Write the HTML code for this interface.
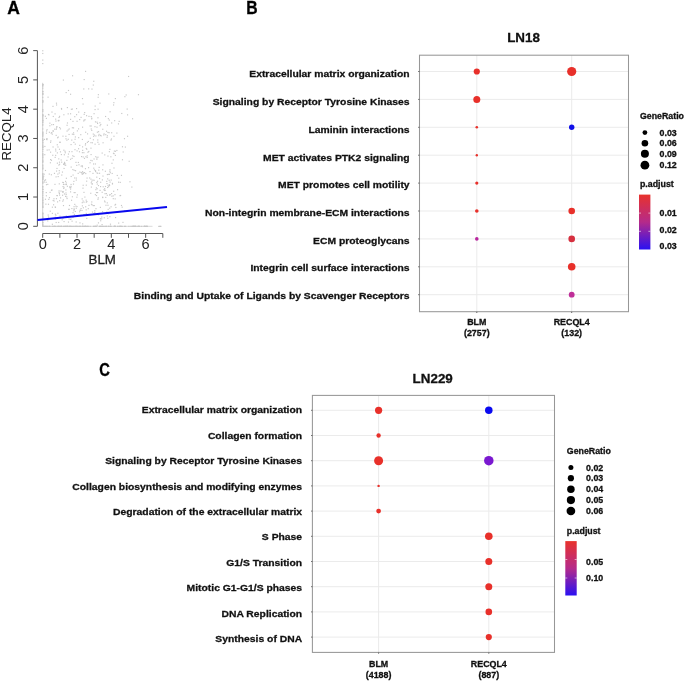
<!DOCTYPE html>
<html><head><meta charset="utf-8"><style>
html,body{margin:0;padding:0;background:#fff;}
body{width:685px;height:681px;overflow:hidden;}
svg{display:block;font-family:"Liberation Sans", sans-serif;will-change:transform;}
</style></head><body>
<svg width="685" height="681" viewBox="0 0 685 681">
<text x="7.2" y="13.8" font-size="17.5" font-weight="bold" text-anchor="start" fill="#000" stroke="#000" stroke-width="0.3" >A</text>
<line x1="37.4" y1="50.62" x2="37.4" y2="226.3" stroke="#555" stroke-width="1"/>
<line x1="33.199999999999996" y1="226.30" x2="37.4" y2="226.30" stroke="#555" stroke-width="1"/>
<text x="0" y="0" font-size="14.6" text-anchor="middle" fill="#222" transform="translate(28.20,226.30) rotate(-90)">0</text>
<line x1="33.199999999999996" y1="197.02" x2="37.4" y2="197.02" stroke="#555" stroke-width="1"/>
<text x="0" y="0" font-size="14.6" text-anchor="middle" fill="#222" transform="translate(28.20,197.02) rotate(-90)">1</text>
<line x1="33.199999999999996" y1="167.74" x2="37.4" y2="167.74" stroke="#555" stroke-width="1"/>
<text x="0" y="0" font-size="14.6" text-anchor="middle" fill="#222" transform="translate(28.20,167.74) rotate(-90)">2</text>
<line x1="33.199999999999996" y1="138.46" x2="37.4" y2="138.46" stroke="#555" stroke-width="1"/>
<text x="0" y="0" font-size="14.6" text-anchor="middle" fill="#222" transform="translate(28.20,138.46) rotate(-90)">3</text>
<line x1="33.199999999999996" y1="109.18" x2="37.4" y2="109.18" stroke="#555" stroke-width="1"/>
<text x="0" y="0" font-size="14.6" text-anchor="middle" fill="#222" transform="translate(28.20,109.18) rotate(-90)">4</text>
<line x1="33.199999999999996" y1="79.90" x2="37.4" y2="79.90" stroke="#555" stroke-width="1"/>
<text x="0" y="0" font-size="14.6" text-anchor="middle" fill="#222" transform="translate(28.20,79.90) rotate(-90)">5</text>
<line x1="33.199999999999996" y1="50.62" x2="37.4" y2="50.62" stroke="#555" stroke-width="1"/>
<text x="0" y="0" font-size="14.6" text-anchor="middle" fill="#222" transform="translate(28.20,50.62) rotate(-90)">6</text>
<text x="0" y="0" font-size="13.3" text-anchor="middle" fill="#222" transform="translate(11,133.9) rotate(-90)">RECQL4</text>
<line x1="42.7" y1="233.5" x2="162.82" y2="233.5" stroke="#555" stroke-width="1"/>
<line x1="42.70" y1="233.5" x2="42.70" y2="237.8" stroke="#555" stroke-width="1"/>
<text x="42.70" y="249.3" font-size="14.6" text-anchor="middle" fill="#222">0</text>
<line x1="59.86" y1="233.5" x2="59.86" y2="237.8" stroke="#555" stroke-width="1"/>
<line x1="77.02" y1="233.5" x2="77.02" y2="237.8" stroke="#555" stroke-width="1"/>
<text x="77.02" y="249.3" font-size="14.6" text-anchor="middle" fill="#222">2</text>
<line x1="94.18" y1="233.5" x2="94.18" y2="237.8" stroke="#555" stroke-width="1"/>
<line x1="111.34" y1="233.5" x2="111.34" y2="237.8" stroke="#555" stroke-width="1"/>
<text x="111.34" y="249.3" font-size="14.6" text-anchor="middle" fill="#222">4</text>
<line x1="128.50" y1="233.5" x2="128.50" y2="237.8" stroke="#555" stroke-width="1"/>
<line x1="145.66" y1="233.5" x2="145.66" y2="237.8" stroke="#555" stroke-width="1"/>
<text x="145.66" y="249.3" font-size="14.6" text-anchor="middle" fill="#222">6</text>
<line x1="162.82" y1="233.5" x2="162.82" y2="237.8" stroke="#555" stroke-width="1"/>
<text x="102.2" y="264.4" font-size="13.3" font-weight="normal" text-anchor="middle" fill="#222" stroke="#222" stroke-width="0.3" >BLM</text>
<line x1="42.7" y1="82.8" x2="42.7" y2="226.3" stroke="#d2d2d2" stroke-width="1"/>
<line x1="42.7" y1="226.3" x2="152.5" y2="226.3" stroke="#dadada" stroke-width="1"/>
<rect x="74.2" y="203.8" width="1.15" height="1.15" fill="#c8c8c8"/>
<rect x="80.6" y="165.6" width="1.15" height="1.15" fill="#c8c8c8"/>
<rect x="76.4" y="206.0" width="1.15" height="1.15" fill="#c8c8c8"/>
<rect x="100.0" y="186.0" width="1.15" height="1.15" fill="#c8c8c8"/>
<rect x="131.3" y="186.5" width="1.15" height="1.15" fill="#c8c8c8"/>
<rect x="59.1" y="127.0" width="1.15" height="1.15" fill="#c8c8c8"/>
<rect x="45.7" y="192.0" width="1.15" height="1.15" fill="#c8c8c8"/>
<rect x="86.3" y="201.0" width="1.15" height="1.15" fill="#c8c8c8"/>
<rect x="86.6" y="155.3" width="1.15" height="1.15" fill="#c8c8c8"/>
<rect x="71.8" y="127.2" width="1.15" height="1.15" fill="#c8c8c8"/>
<rect x="51.7" y="133.6" width="1.15" height="1.15" fill="#c8c8c8"/>
<rect x="91.2" y="180.6" width="1.15" height="1.15" fill="#c8c8c8"/>
<rect x="74.1" y="177.4" width="1.15" height="1.15" fill="#c8c8c8"/>
<rect x="102.5" y="142.2" width="1.15" height="1.15" fill="#c8c8c8"/>
<rect x="70.0" y="113.2" width="1.15" height="1.15" fill="#c8c8c8"/>
<rect x="76.5" y="150.3" width="1.15" height="1.15" fill="#c8c8c8"/>
<rect x="106.7" y="194.7" width="1.15" height="1.15" fill="#c8c8c8"/>
<rect x="70.6" y="175.9" width="1.15" height="1.15" fill="#c8c8c8"/>
<rect x="57.7" y="136.5" width="1.15" height="1.15" fill="#c8c8c8"/>
<rect x="52.7" y="115.9" width="1.15" height="1.15" fill="#c8c8c8"/>
<rect x="108.1" y="186.1" width="1.15" height="1.15" fill="#c8c8c8"/>
<rect x="56.8" y="162.6" width="1.15" height="1.15" fill="#c8c8c8"/>
<rect x="86.5" y="177.5" width="1.15" height="1.15" fill="#c8c8c8"/>
<rect x="50.9" y="159.7" width="1.15" height="1.15" fill="#c8c8c8"/>
<rect x="112.7" y="159.3" width="1.15" height="1.15" fill="#c8c8c8"/>
<rect x="68.8" y="151.1" width="1.15" height="1.15" fill="#c8c8c8"/>
<rect x="53.0" y="204.2" width="1.15" height="1.15" fill="#c8c8c8"/>
<rect x="68.3" y="208.7" width="1.15" height="1.15" fill="#c8c8c8"/>
<rect x="49.3" y="125.2" width="1.15" height="1.15" fill="#c8c8c8"/>
<rect x="92.3" y="179.5" width="1.15" height="1.15" fill="#c8c8c8"/>
<rect x="81.9" y="98.0" width="1.15" height="1.15" fill="#c8c8c8"/>
<rect x="73.8" y="213.8" width="1.15" height="1.15" fill="#c8c8c8"/>
<rect x="66.8" y="185.7" width="1.15" height="1.15" fill="#c8c8c8"/>
<rect x="54.8" y="213.6" width="1.15" height="1.15" fill="#c8c8c8"/>
<rect x="93.5" y="113.1" width="1.15" height="1.15" fill="#c8c8c8"/>
<rect x="104.5" y="193.1" width="1.15" height="1.15" fill="#c8c8c8"/>
<rect x="56.8" y="152.3" width="1.15" height="1.15" fill="#c8c8c8"/>
<rect x="70.0" y="93.7" width="1.15" height="1.15" fill="#c8c8c8"/>
<rect x="111.4" y="162.7" width="1.15" height="1.15" fill="#c8c8c8"/>
<rect x="51.8" y="223.7" width="1.15" height="1.15" fill="#c8c8c8"/>
<rect x="43.9" y="138.8" width="1.15" height="1.15" fill="#c8c8c8"/>
<rect x="94.6" y="105.5" width="1.15" height="1.15" fill="#c8c8c8"/>
<rect x="109.5" y="194.0" width="1.15" height="1.15" fill="#c8c8c8"/>
<rect x="61.0" y="108.6" width="1.15" height="1.15" fill="#c8c8c8"/>
<rect x="92.7" y="133.5" width="1.15" height="1.15" fill="#c8c8c8"/>
<rect x="93.1" y="135.8" width="1.15" height="1.15" fill="#c8c8c8"/>
<rect x="74.8" y="210.9" width="1.15" height="1.15" fill="#c8c8c8"/>
<rect x="85.7" y="212.8" width="1.15" height="1.15" fill="#c8c8c8"/>
<rect x="63.3" y="114.2" width="1.15" height="1.15" fill="#c8c8c8"/>
<rect x="65.0" y="180.8" width="1.15" height="1.15" fill="#c8c8c8"/>
<rect x="108.5" y="132.1" width="1.15" height="1.15" fill="#c8c8c8"/>
<rect x="86.2" y="217.8" width="1.15" height="1.15" fill="#c8c8c8"/>
<rect x="59.9" y="151.3" width="1.15" height="1.15" fill="#c8c8c8"/>
<rect x="58.2" y="120.2" width="1.15" height="1.15" fill="#c8c8c8"/>
<rect x="58.2" y="119.8" width="1.15" height="1.15" fill="#c8c8c8"/>
<rect x="82.9" y="172.7" width="1.15" height="1.15" fill="#c8c8c8"/>
<rect x="90.9" y="203.7" width="1.15" height="1.15" fill="#c8c8c8"/>
<rect x="45.0" y="179.3" width="1.15" height="1.15" fill="#c8c8c8"/>
<rect x="89.4" y="171.0" width="1.15" height="1.15" fill="#c8c8c8"/>
<rect x="84.9" y="168.1" width="1.15" height="1.15" fill="#c8c8c8"/>
<rect x="58.9" y="148.7" width="1.15" height="1.15" fill="#c8c8c8"/>
<rect x="85.7" y="201.6" width="1.15" height="1.15" fill="#c8c8c8"/>
<rect x="78.0" y="148.2" width="1.15" height="1.15" fill="#c8c8c8"/>
<rect x="66.9" y="122.4" width="1.15" height="1.15" fill="#c8c8c8"/>
<rect x="109.3" y="216.1" width="1.15" height="1.15" fill="#c8c8c8"/>
<rect x="99.7" y="218.2" width="1.15" height="1.15" fill="#c8c8c8"/>
<rect x="48.9" y="197.1" width="1.15" height="1.15" fill="#c8c8c8"/>
<rect x="114.1" y="120.1" width="1.15" height="1.15" fill="#c8c8c8"/>
<rect x="46.5" y="129.1" width="1.15" height="1.15" fill="#c8c8c8"/>
<rect x="45.6" y="181.7" width="1.15" height="1.15" fill="#c8c8c8"/>
<rect x="51.8" y="206.6" width="1.15" height="1.15" fill="#c8c8c8"/>
<rect x="82.4" y="187.6" width="1.15" height="1.15" fill="#c8c8c8"/>
<rect x="86.0" y="115.1" width="1.15" height="1.15" fill="#c8c8c8"/>
<rect x="105.2" y="196.8" width="1.15" height="1.15" fill="#c8c8c8"/>
<rect x="47.2" y="220.3" width="1.15" height="1.15" fill="#c8c8c8"/>
<rect x="87.7" y="208.1" width="1.15" height="1.15" fill="#c8c8c8"/>
<rect x="63.8" y="154.2" width="1.15" height="1.15" fill="#c8c8c8"/>
<rect x="61.9" y="171.5" width="1.15" height="1.15" fill="#c8c8c8"/>
<rect x="59.7" y="141.7" width="1.15" height="1.15" fill="#c8c8c8"/>
<rect x="51.2" y="132.0" width="1.15" height="1.15" fill="#c8c8c8"/>
<rect x="70.8" y="108.7" width="1.15" height="1.15" fill="#c8c8c8"/>
<rect x="70.0" y="188.5" width="1.15" height="1.15" fill="#c8c8c8"/>
<rect x="52.6" y="199.9" width="1.15" height="1.15" fill="#c8c8c8"/>
<rect x="61.2" y="174.5" width="1.15" height="1.15" fill="#c8c8c8"/>
<rect x="83.4" y="214.0" width="1.15" height="1.15" fill="#c8c8c8"/>
<rect x="75.4" y="161.8" width="1.15" height="1.15" fill="#c8c8c8"/>
<rect x="94.4" y="126.1" width="1.15" height="1.15" fill="#c8c8c8"/>
<rect x="59.0" y="115.8" width="1.15" height="1.15" fill="#c8c8c8"/>
<rect x="75.0" y="170.1" width="1.15" height="1.15" fill="#c8c8c8"/>
<rect x="71.3" y="208.0" width="1.15" height="1.15" fill="#c8c8c8"/>
<rect x="47.9" y="216.4" width="1.15" height="1.15" fill="#c8c8c8"/>
<rect x="58.7" y="170.1" width="1.15" height="1.15" fill="#c8c8c8"/>
<rect x="64.2" y="164.3" width="1.15" height="1.15" fill="#c8c8c8"/>
<rect x="48.4" y="114.3" width="1.15" height="1.15" fill="#c8c8c8"/>
<rect x="108.7" y="119.5" width="1.15" height="1.15" fill="#c8c8c8"/>
<rect x="65.7" y="182.4" width="1.15" height="1.15" fill="#c8c8c8"/>
<rect x="72.3" y="169.0" width="1.15" height="1.15" fill="#c8c8c8"/>
<rect x="43.1" y="175.7" width="1.15" height="1.15" fill="#c8c8c8"/>
<rect x="53.4" y="198.2" width="1.15" height="1.15" fill="#c8c8c8"/>
<rect x="72.2" y="155.2" width="1.15" height="1.15" fill="#c8c8c8"/>
<rect x="102.1" y="197.0" width="1.15" height="1.15" fill="#c8c8c8"/>
<rect x="123.9" y="138.1" width="1.15" height="1.15" fill="#c8c8c8"/>
<rect x="55.5" y="176.3" width="1.15" height="1.15" fill="#c8c8c8"/>
<rect x="99.0" y="172.7" width="1.15" height="1.15" fill="#c8c8c8"/>
<rect x="88.2" y="150.9" width="1.15" height="1.15" fill="#c8c8c8"/>
<rect x="96.3" y="158.7" width="1.15" height="1.15" fill="#c8c8c8"/>
<rect x="64.5" y="183.9" width="1.15" height="1.15" fill="#c8c8c8"/>
<rect x="56.4" y="167.9" width="1.15" height="1.15" fill="#c8c8c8"/>
<rect x="101.8" y="179.3" width="1.15" height="1.15" fill="#c8c8c8"/>
<rect x="104.5" y="189.7" width="1.15" height="1.15" fill="#c8c8c8"/>
<rect x="47.2" y="183.8" width="1.15" height="1.15" fill="#c8c8c8"/>
<rect x="107.5" y="184.8" width="1.15" height="1.15" fill="#c8c8c8"/>
<rect x="72.5" y="174.5" width="1.15" height="1.15" fill="#c8c8c8"/>
<rect x="94.8" y="194.1" width="1.15" height="1.15" fill="#c8c8c8"/>
<rect x="94.2" y="210.1" width="1.15" height="1.15" fill="#c8c8c8"/>
<rect x="46.0" y="130.4" width="1.15" height="1.15" fill="#c8c8c8"/>
<rect x="90.3" y="159.8" width="1.15" height="1.15" fill="#c8c8c8"/>
<rect x="90.8" y="186.5" width="1.15" height="1.15" fill="#c8c8c8"/>
<rect x="116.7" y="174.9" width="1.15" height="1.15" fill="#c8c8c8"/>
<rect x="112.7" y="198.1" width="1.15" height="1.15" fill="#c8c8c8"/>
<rect x="64.1" y="163.0" width="1.15" height="1.15" fill="#c8c8c8"/>
<rect x="85.7" y="147.9" width="1.15" height="1.15" fill="#c8c8c8"/>
<rect x="49.3" y="122.6" width="1.15" height="1.15" fill="#c8c8c8"/>
<rect x="107.2" y="217.7" width="1.15" height="1.15" fill="#c8c8c8"/>
<rect x="45.9" y="132.6" width="1.15" height="1.15" fill="#c8c8c8"/>
<rect x="63.5" y="216.3" width="1.15" height="1.15" fill="#c8c8c8"/>
<rect x="54.1" y="128.6" width="1.15" height="1.15" fill="#c8c8c8"/>
<rect x="60.4" y="190.5" width="1.15" height="1.15" fill="#c8c8c8"/>
<rect x="87.8" y="140.9" width="1.15" height="1.15" fill="#c8c8c8"/>
<rect x="107.1" y="178.3" width="1.15" height="1.15" fill="#c8c8c8"/>
<rect x="109.4" y="169.2" width="1.15" height="1.15" fill="#c8c8c8"/>
<rect x="118.2" y="177.6" width="1.15" height="1.15" fill="#c8c8c8"/>
<rect x="88.0" y="167.1" width="1.15" height="1.15" fill="#c8c8c8"/>
<rect x="58.5" y="116.9" width="1.15" height="1.15" fill="#c8c8c8"/>
<rect x="83.2" y="88.4" width="1.15" height="1.15" fill="#c8c8c8"/>
<rect x="79.8" y="209.7" width="1.15" height="1.15" fill="#c8c8c8"/>
<rect x="73.6" y="192.0" width="1.15" height="1.15" fill="#c8c8c8"/>
<rect x="95.9" y="192.0" width="1.15" height="1.15" fill="#c8c8c8"/>
<rect x="65.3" y="189.4" width="1.15" height="1.15" fill="#c8c8c8"/>
<rect x="43.8" y="181.4" width="1.15" height="1.15" fill="#c8c8c8"/>
<rect x="68.5" y="218.4" width="1.15" height="1.15" fill="#c8c8c8"/>
<rect x="63.1" y="163.7" width="1.15" height="1.15" fill="#c8c8c8"/>
<rect x="94.9" y="121.3" width="1.15" height="1.15" fill="#c8c8c8"/>
<rect x="118.1" y="222.5" width="1.15" height="1.15" fill="#c8c8c8"/>
<rect x="57.0" y="137.2" width="1.15" height="1.15" fill="#c8c8c8"/>
<rect x="110.3" y="156.2" width="1.15" height="1.15" fill="#c8c8c8"/>
<rect x="74.5" y="138.7" width="1.15" height="1.15" fill="#c8c8c8"/>
<rect x="71.0" y="199.7" width="1.15" height="1.15" fill="#c8c8c8"/>
<rect x="52.4" y="130.4" width="1.15" height="1.15" fill="#c8c8c8"/>
<rect x="60.8" y="154.0" width="1.15" height="1.15" fill="#c8c8c8"/>
<rect x="73.6" y="209.0" width="1.15" height="1.15" fill="#c8c8c8"/>
<rect x="44.3" y="145.9" width="1.15" height="1.15" fill="#c8c8c8"/>
<rect x="102.1" y="196.6" width="1.15" height="1.15" fill="#c8c8c8"/>
<rect x="75.7" y="207.7" width="1.15" height="1.15" fill="#c8c8c8"/>
<rect x="56.6" y="195.0" width="1.15" height="1.15" fill="#c8c8c8"/>
<rect x="101.2" y="216.5" width="1.15" height="1.15" fill="#c8c8c8"/>
<rect x="108.6" y="179.7" width="1.15" height="1.15" fill="#c8c8c8"/>
<rect x="59.9" y="128.3" width="1.15" height="1.15" fill="#c8c8c8"/>
<rect x="82.0" y="171.1" width="1.15" height="1.15" fill="#c8c8c8"/>
<rect x="96.7" y="183.5" width="1.15" height="1.15" fill="#c8c8c8"/>
<rect x="63.5" y="221.0" width="1.15" height="1.15" fill="#c8c8c8"/>
<rect x="117.0" y="189.1" width="1.15" height="1.15" fill="#c8c8c8"/>
<rect x="86.1" y="180.6" width="1.15" height="1.15" fill="#c8c8c8"/>
<rect x="62.5" y="186.0" width="1.15" height="1.15" fill="#c8c8c8"/>
<rect x="129.4" y="181.2" width="1.15" height="1.15" fill="#c8c8c8"/>
<rect x="76.3" y="196.6" width="1.15" height="1.15" fill="#c8c8c8"/>
<rect x="45.3" y="203.6" width="1.15" height="1.15" fill="#c8c8c8"/>
<rect x="63.4" y="186.7" width="1.15" height="1.15" fill="#c8c8c8"/>
<rect x="104.5" y="201.4" width="1.15" height="1.15" fill="#c8c8c8"/>
<rect x="108.8" y="151.1" width="1.15" height="1.15" fill="#c8c8c8"/>
<rect x="66.3" y="139.6" width="1.15" height="1.15" fill="#c8c8c8"/>
<rect x="71.5" y="157.8" width="1.15" height="1.15" fill="#c8c8c8"/>
<rect x="117.9" y="123.3" width="1.15" height="1.15" fill="#c8c8c8"/>
<rect x="105.4" y="204.7" width="1.15" height="1.15" fill="#c8c8c8"/>
<rect x="57.0" y="201.3" width="1.15" height="1.15" fill="#c8c8c8"/>
<rect x="115.0" y="217.0" width="1.15" height="1.15" fill="#c8c8c8"/>
<rect x="50.0" y="141.7" width="1.15" height="1.15" fill="#c8c8c8"/>
<rect x="102.1" y="169.2" width="1.15" height="1.15" fill="#c8c8c8"/>
<rect x="99.5" y="189.8" width="1.15" height="1.15" fill="#c8c8c8"/>
<rect x="62.8" y="199.3" width="1.15" height="1.15" fill="#c8c8c8"/>
<rect x="82.5" y="200.4" width="1.15" height="1.15" fill="#c8c8c8"/>
<rect x="85.0" y="143.1" width="1.15" height="1.15" fill="#c8c8c8"/>
<rect x="44.9" y="198.7" width="1.15" height="1.15" fill="#c8c8c8"/>
<rect x="97.7" y="197.3" width="1.15" height="1.15" fill="#c8c8c8"/>
<rect x="100.6" y="135.3" width="1.15" height="1.15" fill="#c8c8c8"/>
<rect x="121.9" y="146.2" width="1.15" height="1.15" fill="#c8c8c8"/>
<rect x="55.9" y="198.1" width="1.15" height="1.15" fill="#c8c8c8"/>
<rect x="51.8" y="212.8" width="1.15" height="1.15" fill="#c8c8c8"/>
<rect x="70.5" y="144.0" width="1.15" height="1.15" fill="#c8c8c8"/>
<rect x="54.6" y="156.8" width="1.15" height="1.15" fill="#c8c8c8"/>
<rect x="94.5" y="143.6" width="1.15" height="1.15" fill="#c8c8c8"/>
<rect x="71.8" y="108.5" width="1.15" height="1.15" fill="#c8c8c8"/>
<rect x="58.7" y="183.3" width="1.15" height="1.15" fill="#c8c8c8"/>
<rect x="115.0" y="203.8" width="1.15" height="1.15" fill="#c8c8c8"/>
<rect x="97.0" y="122.9" width="1.15" height="1.15" fill="#c8c8c8"/>
<rect x="78.1" y="137.1" width="1.15" height="1.15" fill="#c8c8c8"/>
<rect x="77.8" y="161.9" width="1.15" height="1.15" fill="#c8c8c8"/>
<rect x="93.5" y="158.4" width="1.15" height="1.15" fill="#c8c8c8"/>
<rect x="65.6" y="194.0" width="1.15" height="1.15" fill="#c8c8c8"/>
<rect x="85.2" y="173.0" width="1.15" height="1.15" fill="#c8c8c8"/>
<rect x="108.0" y="213.1" width="1.15" height="1.15" fill="#c8c8c8"/>
<rect x="122.4" y="221.8" width="1.15" height="1.15" fill="#c8c8c8"/>
<rect x="97.2" y="139.4" width="1.15" height="1.15" fill="#c8c8c8"/>
<rect x="111.9" y="183.4" width="1.15" height="1.15" fill="#c8c8c8"/>
<rect x="82.1" y="223.3" width="1.15" height="1.15" fill="#c8c8c8"/>
<rect x="50.8" y="174.2" width="1.15" height="1.15" fill="#c8c8c8"/>
<rect x="52.4" y="105.8" width="1.15" height="1.15" fill="#c8c8c8"/>
<rect x="113.5" y="153.1" width="1.15" height="1.15" fill="#c8c8c8"/>
<rect x="86.2" y="148.7" width="1.15" height="1.15" fill="#c8c8c8"/>
<rect x="69.4" y="187.1" width="1.15" height="1.15" fill="#c8c8c8"/>
<rect x="101.2" y="218.3" width="1.15" height="1.15" fill="#c8c8c8"/>
<rect x="81.5" y="173.4" width="1.15" height="1.15" fill="#c8c8c8"/>
<rect x="102.2" y="128.7" width="1.15" height="1.15" fill="#c8c8c8"/>
<rect x="90.4" y="178.6" width="1.15" height="1.15" fill="#c8c8c8"/>
<rect x="124.3" y="96.1" width="1.15" height="1.15" fill="#c8c8c8"/>
<rect x="99.3" y="122.2" width="1.15" height="1.15" fill="#c8c8c8"/>
<rect x="97.7" y="214.2" width="1.15" height="1.15" fill="#c8c8c8"/>
<rect x="104.1" y="188.1" width="1.15" height="1.15" fill="#c8c8c8"/>
<rect x="108.8" y="173.8" width="1.15" height="1.15" fill="#c8c8c8"/>
<rect x="109.5" y="111.2" width="1.15" height="1.15" fill="#c8c8c8"/>
<rect x="57.6" y="176.0" width="1.15" height="1.15" fill="#c8c8c8"/>
<rect x="47.9" y="113.9" width="1.15" height="1.15" fill="#c8c8c8"/>
<rect x="97.3" y="141.7" width="1.15" height="1.15" fill="#c8c8c8"/>
<rect x="96.8" y="131.6" width="1.15" height="1.15" fill="#c8c8c8"/>
<rect x="62.9" y="182.1" width="1.15" height="1.15" fill="#c8c8c8"/>
<rect x="99.5" y="125.1" width="1.15" height="1.15" fill="#c8c8c8"/>
<rect x="70.5" y="218.5" width="1.15" height="1.15" fill="#c8c8c8"/>
<rect x="113.1" y="190.7" width="1.15" height="1.15" fill="#c8c8c8"/>
<rect x="101.6" y="152.5" width="1.15" height="1.15" fill="#c8c8c8"/>
<rect x="68.4" y="208.9" width="1.15" height="1.15" fill="#c8c8c8"/>
<rect x="79.1" y="119.0" width="1.15" height="1.15" fill="#c8c8c8"/>
<rect x="54.6" y="206.4" width="1.15" height="1.15" fill="#c8c8c8"/>
<rect x="49.7" y="210.6" width="1.15" height="1.15" fill="#c8c8c8"/>
<rect x="84.5" y="119.2" width="1.15" height="1.15" fill="#c8c8c8"/>
<rect x="63.3" y="149.6" width="1.15" height="1.15" fill="#c8c8c8"/>
<rect x="109.1" y="207.6" width="1.15" height="1.15" fill="#c8c8c8"/>
<rect x="71.8" y="133.6" width="1.15" height="1.15" fill="#c8c8c8"/>
<rect x="63.5" y="167.9" width="1.15" height="1.15" fill="#c8c8c8"/>
<rect x="73.2" y="133.9" width="1.15" height="1.15" fill="#c8c8c8"/>
<rect x="49.8" y="162.2" width="1.15" height="1.15" fill="#c8c8c8"/>
<rect x="106.4" y="183.0" width="1.15" height="1.15" fill="#c8c8c8"/>
<rect x="58.2" y="158.3" width="1.15" height="1.15" fill="#c8c8c8"/>
<rect x="51.5" y="189.4" width="1.15" height="1.15" fill="#c8c8c8"/>
<rect x="91.9" y="211.5" width="1.15" height="1.15" fill="#c8c8c8"/>
<rect x="67.7" y="138.7" width="1.15" height="1.15" fill="#c8c8c8"/>
<rect x="102.0" y="211.1" width="1.15" height="1.15" fill="#c8c8c8"/>
<rect x="70.0" y="158.7" width="1.15" height="1.15" fill="#c8c8c8"/>
<rect x="114.6" y="198.3" width="1.15" height="1.15" fill="#c8c8c8"/>
<rect x="111.3" y="195.6" width="1.15" height="1.15" fill="#c8c8c8"/>
<rect x="105.0" y="115.9" width="1.15" height="1.15" fill="#c8c8c8"/>
<rect x="85.1" y="131.7" width="1.15" height="1.15" fill="#c8c8c8"/>
<rect x="84.8" y="144.4" width="1.15" height="1.15" fill="#c8c8c8"/>
<rect x="73.5" y="206.1" width="1.15" height="1.15" fill="#c8c8c8"/>
<rect x="56.2" y="126.4" width="1.15" height="1.15" fill="#c8c8c8"/>
<rect x="57.7" y="120.1" width="1.15" height="1.15" fill="#c8c8c8"/>
<rect x="69.8" y="218.9" width="1.15" height="1.15" fill="#c8c8c8"/>
<rect x="85.3" y="156.2" width="1.15" height="1.15" fill="#c8c8c8"/>
<rect x="106.0" y="130.7" width="1.15" height="1.15" fill="#c8c8c8"/>
<rect x="114.4" y="204.5" width="1.15" height="1.15" fill="#c8c8c8"/>
<rect x="67.6" y="129.4" width="1.15" height="1.15" fill="#c8c8c8"/>
<rect x="95.4" y="208.1" width="1.15" height="1.15" fill="#c8c8c8"/>
<rect x="62.2" y="191.3" width="1.15" height="1.15" fill="#c8c8c8"/>
<rect x="65.0" y="195.8" width="1.15" height="1.15" fill="#c8c8c8"/>
<rect x="62.2" y="200.6" width="1.15" height="1.15" fill="#c8c8c8"/>
<rect x="97.4" y="156.6" width="1.15" height="1.15" fill="#c8c8c8"/>
<rect x="65.7" y="215.4" width="1.15" height="1.15" fill="#c8c8c8"/>
<rect x="120.0" y="194.9" width="1.15" height="1.15" fill="#c8c8c8"/>
<rect x="47.5" y="96.6" width="1.15" height="1.15" fill="#c8c8c8"/>
<rect x="48.8" y="131.7" width="1.15" height="1.15" fill="#c8c8c8"/>
<rect x="68.9" y="204.9" width="1.15" height="1.15" fill="#c8c8c8"/>
<rect x="90.5" y="154.0" width="1.15" height="1.15" fill="#c8c8c8"/>
<rect x="52.2" y="154.7" width="1.15" height="1.15" fill="#c8c8c8"/>
<rect x="84.0" y="172.0" width="1.15" height="1.15" fill="#c8c8c8"/>
<rect x="124.2" y="210.3" width="1.15" height="1.15" fill="#c8c8c8"/>
<rect x="56.7" y="144.2" width="1.15" height="1.15" fill="#c8c8c8"/>
<rect x="75.7" y="179.5" width="1.15" height="1.15" fill="#c8c8c8"/>
<rect x="82.7" y="172.5" width="1.15" height="1.15" fill="#c8c8c8"/>
<rect x="66.5" y="124.7" width="1.15" height="1.15" fill="#c8c8c8"/>
<rect x="91.6" y="183.5" width="1.15" height="1.15" fill="#c8c8c8"/>
<rect x="96.2" y="176.6" width="1.15" height="1.15" fill="#c8c8c8"/>
<rect x="108.8" y="184.2" width="1.15" height="1.15" fill="#c8c8c8"/>
<rect x="97.7" y="213.9" width="1.15" height="1.15" fill="#c8c8c8"/>
<rect x="56.5" y="195.0" width="1.15" height="1.15" fill="#c8c8c8"/>
<rect x="76.0" y="114.1" width="1.15" height="1.15" fill="#c8c8c8"/>
<rect x="54.4" y="183.8" width="1.15" height="1.15" fill="#c8c8c8"/>
<rect x="119.5" y="195.1" width="1.15" height="1.15" fill="#c8c8c8"/>
<rect x="54.9" y="206.8" width="1.15" height="1.15" fill="#c8c8c8"/>
<rect x="80.2" y="134.1" width="1.15" height="1.15" fill="#c8c8c8"/>
<rect x="82.1" y="173.6" width="1.15" height="1.15" fill="#c8c8c8"/>
<rect x="46.6" y="149.5" width="1.15" height="1.15" fill="#c8c8c8"/>
<rect x="99.9" y="134.8" width="1.15" height="1.15" fill="#c8c8c8"/>
<rect x="76.0" y="108.0" width="1.15" height="1.15" fill="#c8c8c8"/>
<rect x="95.0" y="171.0" width="1.15" height="1.15" fill="#c8c8c8"/>
<rect x="83.3" y="152.1" width="1.15" height="1.15" fill="#c8c8c8"/>
<rect x="89.5" y="162.2" width="1.15" height="1.15" fill="#c8c8c8"/>
<rect x="78.1" y="111.5" width="1.15" height="1.15" fill="#c8c8c8"/>
<rect x="48.2" y="198.8" width="1.15" height="1.15" fill="#c8c8c8"/>
<rect x="81.6" y="165.1" width="1.15" height="1.15" fill="#c8c8c8"/>
<rect x="59.0" y="194.5" width="1.15" height="1.15" fill="#c8c8c8"/>
<rect x="70.5" y="183.9" width="1.15" height="1.15" fill="#c8c8c8"/>
<rect x="78.9" y="151.2" width="1.15" height="1.15" fill="#c8c8c8"/>
<rect x="72.4" y="120.8" width="1.15" height="1.15" fill="#c8c8c8"/>
<rect x="75.7" y="177.5" width="1.15" height="1.15" fill="#c8c8c8"/>
<rect x="68.5" y="133.9" width="1.15" height="1.15" fill="#c8c8c8"/>
<rect x="106.5" y="136.8" width="1.15" height="1.15" fill="#c8c8c8"/>
<rect x="73.0" y="132.3" width="1.15" height="1.15" fill="#c8c8c8"/>
<rect x="96.4" y="172.3" width="1.15" height="1.15" fill="#c8c8c8"/>
<rect x="67.5" y="156.3" width="1.15" height="1.15" fill="#c8c8c8"/>
<rect x="107.4" y="204.7" width="1.15" height="1.15" fill="#c8c8c8"/>
<rect x="95.0" y="170.1" width="1.15" height="1.15" fill="#c8c8c8"/>
<rect x="104.9" y="185.9" width="1.15" height="1.15" fill="#c8c8c8"/>
<rect x="74.7" y="143.6" width="1.15" height="1.15" fill="#c8c8c8"/>
<rect x="64.0" y="161.8" width="1.15" height="1.15" fill="#c8c8c8"/>
<rect x="66.5" y="198.0" width="1.15" height="1.15" fill="#c8c8c8"/>
<rect x="113.4" y="135.7" width="1.15" height="1.15" fill="#c8c8c8"/>
<rect x="110.9" y="138.4" width="1.15" height="1.15" fill="#c8c8c8"/>
<rect x="91.1" y="118.3" width="1.15" height="1.15" fill="#c8c8c8"/>
<rect x="91.5" y="204.3" width="1.15" height="1.15" fill="#c8c8c8"/>
<rect x="61.6" y="219.2" width="1.15" height="1.15" fill="#c8c8c8"/>
<rect x="111.1" y="132.2" width="1.15" height="1.15" fill="#c8c8c8"/>
<rect x="90.4" y="142.1" width="1.15" height="1.15" fill="#c8c8c8"/>
<rect x="104.2" y="154.3" width="1.15" height="1.15" fill="#c8c8c8"/>
<rect x="81.8" y="138.9" width="1.15" height="1.15" fill="#c8c8c8"/>
<rect x="83.4" y="201.6" width="1.15" height="1.15" fill="#c8c8c8"/>
<rect x="88.4" y="204.8" width="1.15" height="1.15" fill="#c8c8c8"/>
<rect x="68.6" y="128.4" width="1.15" height="1.15" fill="#c8c8c8"/>
<rect x="48.7" y="173.5" width="1.15" height="1.15" fill="#c8c8c8"/>
<rect x="96.6" y="188.2" width="1.15" height="1.15" fill="#c8c8c8"/>
<rect x="124.8" y="146.5" width="1.15" height="1.15" fill="#c8c8c8"/>
<rect x="77.6" y="172.8" width="1.15" height="1.15" fill="#c8c8c8"/>
<rect x="122.6" y="151.4" width="1.15" height="1.15" fill="#c8c8c8"/>
<rect x="73.3" y="180.8" width="1.15" height="1.15" fill="#c8c8c8"/>
<rect x="82.6" y="184.7" width="1.15" height="1.15" fill="#c8c8c8"/>
<rect x="59.1" y="200.1" width="1.15" height="1.15" fill="#c8c8c8"/>
<rect x="95.8" y="187.3" width="1.15" height="1.15" fill="#c8c8c8"/>
<rect x="92.8" y="139.2" width="1.15" height="1.15" fill="#c8c8c8"/>
<rect x="64.5" y="150.7" width="1.15" height="1.15" fill="#c8c8c8"/>
<rect x="90.4" y="147.6" width="1.15" height="1.15" fill="#c8c8c8"/>
<rect x="105.8" y="193.0" width="1.15" height="1.15" fill="#c8c8c8"/>
<rect x="50.6" y="132.6" width="1.15" height="1.15" fill="#c8c8c8"/>
<rect x="96.2" y="181.8" width="1.15" height="1.15" fill="#c8c8c8"/>
<rect x="79.3" y="171.5" width="1.15" height="1.15" fill="#c8c8c8"/>
<rect x="96.3" y="157.3" width="1.15" height="1.15" fill="#c8c8c8"/>
<rect x="103.7" y="217.2" width="1.15" height="1.15" fill="#c8c8c8"/>
<rect x="111.0" y="193.0" width="1.15" height="1.15" fill="#c8c8c8"/>
<rect x="106.3" y="211.4" width="1.15" height="1.15" fill="#c8c8c8"/>
<rect x="58.7" y="172.4" width="1.15" height="1.15" fill="#c8c8c8"/>
<rect x="93.0" y="163.4" width="1.15" height="1.15" fill="#c8c8c8"/>
<rect x="57.4" y="146.4" width="1.15" height="1.15" fill="#c8c8c8"/>
<rect x="109.5" y="181.5" width="1.15" height="1.15" fill="#c8c8c8"/>
<rect x="109.0" y="184.8" width="1.15" height="1.15" fill="#c8c8c8"/>
<rect x="83.4" y="191.8" width="1.15" height="1.15" fill="#c8c8c8"/>
<rect x="55.1" y="148.6" width="1.15" height="1.15" fill="#c8c8c8"/>
<rect x="55.6" y="128.8" width="1.15" height="1.15" fill="#c8c8c8"/>
<rect x="66.2" y="196.4" width="1.15" height="1.15" fill="#c8c8c8"/>
<rect x="98.2" y="135.1" width="1.15" height="1.15" fill="#c8c8c8"/>
<rect x="87.0" y="133.3" width="1.15" height="1.15" fill="#c8c8c8"/>
<rect x="65.3" y="135.7" width="1.15" height="1.15" fill="#c8c8c8"/>
<rect x="86.6" y="156.9" width="1.15" height="1.15" fill="#c8c8c8"/>
<rect x="73.3" y="141.8" width="1.15" height="1.15" fill="#c8c8c8"/>
<rect x="62.4" y="191.7" width="1.15" height="1.15" fill="#c8c8c8"/>
<rect x="76.2" y="164.8" width="1.15" height="1.15" fill="#c8c8c8"/>
<rect x="84.1" y="112.0" width="1.15" height="1.15" fill="#c8c8c8"/>
<rect x="98.6" y="166.8" width="1.15" height="1.15" fill="#c8c8c8"/>
<rect x="120.9" y="204.9" width="1.15" height="1.15" fill="#c8c8c8"/>
<rect x="81.0" y="156.0" width="1.15" height="1.15" fill="#c8c8c8"/>
<rect x="99.8" y="206.8" width="1.15" height="1.15" fill="#c8c8c8"/>
<rect x="105.2" y="134.1" width="1.15" height="1.15" fill="#c8c8c8"/>
<rect x="110.5" y="206.2" width="1.15" height="1.15" fill="#c8c8c8"/>
<rect x="110.4" y="139.5" width="1.15" height="1.15" fill="#c8c8c8"/>
<rect x="78.0" y="128.3" width="1.15" height="1.15" fill="#c8c8c8"/>
<rect x="83.6" y="214.3" width="1.15" height="1.15" fill="#c8c8c8"/>
<rect x="62.0" y="194.7" width="1.15" height="1.15" fill="#c8c8c8"/>
<rect x="54.7" y="218.4" width="1.15" height="1.15" fill="#c8c8c8"/>
<rect x="100.1" y="181.7" width="1.15" height="1.15" fill="#c8c8c8"/>
<rect x="73.5" y="208.2" width="1.15" height="1.15" fill="#c8c8c8"/>
<rect x="53.9" y="172.8" width="1.15" height="1.15" fill="#c8c8c8"/>
<rect x="67.9" y="221.5" width="1.15" height="1.15" fill="#c8c8c8"/>
<rect x="113.8" y="150.5" width="1.15" height="1.15" fill="#c8c8c8"/>
<rect x="107.6" y="173.8" width="1.15" height="1.15" fill="#c8c8c8"/>
<rect x="83.6" y="113.8" width="1.15" height="1.15" fill="#c8c8c8"/>
<rect x="95.9" y="195.0" width="1.15" height="1.15" fill="#c8c8c8"/>
<rect x="82.0" y="126.6" width="1.15" height="1.15" fill="#c8c8c8"/>
<rect x="109.9" y="223.6" width="1.15" height="1.15" fill="#c8c8c8"/>
<rect x="59.4" y="215.6" width="1.15" height="1.15" fill="#c8c8c8"/>
<rect x="90.7" y="128.4" width="1.15" height="1.15" fill="#c8c8c8"/>
<rect x="120.9" y="174.8" width="1.15" height="1.15" fill="#c8c8c8"/>
<rect x="58.3" y="164.5" width="1.15" height="1.15" fill="#c8c8c8"/>
<rect x="102.6" y="186.2" width="1.15" height="1.15" fill="#c8c8c8"/>
<rect x="88.1" y="88.3" width="1.15" height="1.15" fill="#c8c8c8"/>
<rect x="65.8" y="184.0" width="1.15" height="1.15" fill="#c8c8c8"/>
<rect x="98.0" y="131.1" width="1.15" height="1.15" fill="#c8c8c8"/>
<rect x="56.0" y="104.4" width="1.15" height="1.15" fill="#c8c8c8"/>
<rect x="89.5" y="125.4" width="1.15" height="1.15" fill="#c8c8c8"/>
<rect x="47.9" y="203.7" width="1.15" height="1.15" fill="#c8c8c8"/>
<rect x="81.7" y="202.1" width="1.15" height="1.15" fill="#c8c8c8"/>
<rect x="106.7" y="202.3" width="1.15" height="1.15" fill="#c8c8c8"/>
<rect x="51.2" y="124.1" width="1.15" height="1.15" fill="#c8c8c8"/>
<rect x="110.6" y="179.5" width="1.15" height="1.15" fill="#c8c8c8"/>
<rect x="65.1" y="164.7" width="1.15" height="1.15" fill="#c8c8c8"/>
<rect x="67.9" y="153.5" width="1.15" height="1.15" fill="#c8c8c8"/>
<rect x="93.2" y="212.9" width="1.15" height="1.15" fill="#c8c8c8"/>
<rect x="91.2" y="129.8" width="1.15" height="1.15" fill="#c8c8c8"/>
<rect x="58.5" y="191.7" width="1.15" height="1.15" fill="#c8c8c8"/>
<rect x="102.4" y="164.3" width="1.15" height="1.15" fill="#c8c8c8"/>
<rect x="70.0" y="118.8" width="1.15" height="1.15" fill="#c8c8c8"/>
<rect x="57.3" y="212.7" width="1.15" height="1.15" fill="#c8c8c8"/>
<rect x="76.8" y="194.3" width="1.15" height="1.15" fill="#c8c8c8"/>
<rect x="100.2" y="123.9" width="1.15" height="1.15" fill="#c8c8c8"/>
<rect x="45.8" y="195.2" width="1.15" height="1.15" fill="#c8c8c8"/>
<rect x="90.2" y="192.7" width="1.15" height="1.15" fill="#c8c8c8"/>
<rect x="100.1" y="220.2" width="1.15" height="1.15" fill="#c8c8c8"/>
<rect x="99.0" y="178.0" width="1.15" height="1.15" fill="#c8c8c8"/>
<rect x="112.6" y="195.3" width="1.15" height="1.15" fill="#c8c8c8"/>
<rect x="58.1" y="221.9" width="1.15" height="1.15" fill="#c8c8c8"/>
<rect x="58.9" y="161.6" width="1.15" height="1.15" fill="#c8c8c8"/>
<rect x="66.5" y="130.5" width="1.15" height="1.15" fill="#c8c8c8"/>
<rect x="97.9" y="222.3" width="1.15" height="1.15" fill="#c8c8c8"/>
<rect x="85.6" y="209.3" width="1.15" height="1.15" fill="#c8c8c8"/>
<rect x="94.5" y="109.0" width="1.15" height="1.15" fill="#c8c8c8"/>
<rect x="98.2" y="169.6" width="1.15" height="1.15" fill="#c8c8c8"/>
<rect x="106.8" y="124.6" width="1.15" height="1.15" fill="#c8c8c8"/>
<rect x="74.4" y="149.1" width="1.15" height="1.15" fill="#c8c8c8"/>
<rect x="48.5" y="149.3" width="1.15" height="1.15" fill="#c8c8c8"/>
<rect x="64.7" y="152.2" width="1.15" height="1.15" fill="#c8c8c8"/>
<rect x="62.4" y="190.9" width="1.15" height="1.15" fill="#c8c8c8"/>
<rect x="115.3" y="206.9" width="1.15" height="1.15" fill="#c8c8c8"/>
<rect x="62.4" y="217.6" width="1.15" height="1.15" fill="#c8c8c8"/>
<rect x="95.2" y="156.1" width="1.15" height="1.15" fill="#c8c8c8"/>
<rect x="72.4" y="216.8" width="1.15" height="1.15" fill="#c8c8c8"/>
<rect x="106.7" y="215.4" width="1.15" height="1.15" fill="#c8c8c8"/>
<rect x="72.5" y="212.1" width="1.15" height="1.15" fill="#c8c8c8"/>
<rect x="80.5" y="116.8" width="1.15" height="1.15" fill="#c8c8c8"/>
<rect x="111.9" y="182.8" width="1.15" height="1.15" fill="#c8c8c8"/>
<rect x="96.5" y="121.6" width="1.15" height="1.15" fill="#c8c8c8"/>
<rect x="97.0" y="180.7" width="1.15" height="1.15" fill="#c8c8c8"/>
<rect x="90.6" y="125.4" width="1.15" height="1.15" fill="#c8c8c8"/>
<rect x="104.8" y="170.7" width="1.15" height="1.15" fill="#c8c8c8"/>
<rect x="119.7" y="181.8" width="1.15" height="1.15" fill="#c8c8c8"/>
<rect x="82.8" y="207.2" width="1.15" height="1.15" fill="#c8c8c8"/>
<rect x="73.3" y="210.2" width="1.15" height="1.15" fill="#c8c8c8"/>
<rect x="118.0" y="181.6" width="1.15" height="1.15" fill="#c8c8c8"/>
<rect x="89.1" y="177.4" width="1.15" height="1.15" fill="#c8c8c8"/>
<rect x="93.7" y="205.0" width="1.15" height="1.15" fill="#c8c8c8"/>
<rect x="62.2" y="181.8" width="1.15" height="1.15" fill="#c8c8c8"/>
<rect x="63.0" y="163.6" width="1.15" height="1.15" fill="#c8c8c8"/>
<rect x="106.8" y="174.0" width="1.15" height="1.15" fill="#c8c8c8"/>
<rect x="85.1" y="206.2" width="1.15" height="1.15" fill="#c8c8c8"/>
<rect x="58.8" y="193.0" width="1.15" height="1.15" fill="#c8c8c8"/>
<rect x="81.8" y="152.1" width="1.15" height="1.15" fill="#c8c8c8"/>
<rect x="65.8" y="177.7" width="1.15" height="1.15" fill="#c8c8c8"/>
<rect x="66.3" y="159.8" width="1.15" height="1.15" fill="#c8c8c8"/>
<rect x="70.2" y="187.0" width="1.15" height="1.15" fill="#c8c8c8"/>
<rect x="107.4" y="155.5" width="1.15" height="1.15" fill="#c8c8c8"/>
<rect x="71.2" y="139.5" width="1.15" height="1.15" fill="#c8c8c8"/>
<rect x="70.6" y="166.5" width="1.15" height="1.15" fill="#c8c8c8"/>
<rect x="54.5" y="113.3" width="1.15" height="1.15" fill="#c8c8c8"/>
<rect x="50.3" y="140.3" width="1.15" height="1.15" fill="#c8c8c8"/>
<rect x="97.9" y="185.0" width="1.15" height="1.15" fill="#c8c8c8"/>
<rect x="97.0" y="192.0" width="1.15" height="1.15" fill="#c8c8c8"/>
<rect x="121.9" y="159.2" width="1.15" height="1.15" fill="#c8c8c8"/>
<rect x="90.7" y="182.2" width="1.15" height="1.15" fill="#c8c8c8"/>
<rect x="109.1" y="194.5" width="1.15" height="1.15" fill="#c8c8c8"/>
<rect x="63.2" y="187.9" width="1.15" height="1.15" fill="#c8c8c8"/>
<rect x="63.9" y="193.4" width="1.15" height="1.15" fill="#c8c8c8"/>
<rect x="107.0" y="186.9" width="1.15" height="1.15" fill="#c8c8c8"/>
<rect x="55.1" y="154.8" width="1.15" height="1.15" fill="#c8c8c8"/>
<rect x="102.4" y="175.5" width="1.15" height="1.15" fill="#c8c8c8"/>
<rect x="75.6" y="221.4" width="1.15" height="1.15" fill="#c8c8c8"/>
<rect x="65.4" y="138.2" width="1.15" height="1.15" fill="#c8c8c8"/>
<rect x="93.2" y="167.6" width="1.15" height="1.15" fill="#c8c8c8"/>
<rect x="87.4" y="151.7" width="1.15" height="1.15" fill="#c8c8c8"/>
<rect x="81.2" y="172.2" width="1.15" height="1.15" fill="#c8c8c8"/>
<rect x="44.2" y="154.1" width="1.15" height="1.15" fill="#c8c8c8"/>
<rect x="101.6" y="191.7" width="1.15" height="1.15" fill="#c8c8c8"/>
<rect x="55.3" y="214.6" width="1.15" height="1.15" fill="#c8c8c8"/>
<rect x="84.3" y="196.5" width="1.15" height="1.15" fill="#c8c8c8"/>
<rect x="103.2" y="134.4" width="1.15" height="1.15" fill="#c8c8c8"/>
<rect x="104.2" y="189.9" width="1.15" height="1.15" fill="#c8c8c8"/>
<rect x="75.3" y="205.5" width="1.15" height="1.15" fill="#c8c8c8"/>
<rect x="83.2" y="120.4" width="1.15" height="1.15" fill="#c8c8c8"/>
<rect x="98.5" y="133.8" width="1.15" height="1.15" fill="#c8c8c8"/>
<rect x="65.4" y="192.4" width="1.15" height="1.15" fill="#c8c8c8"/>
<rect x="94.3" y="212.6" width="1.15" height="1.15" fill="#c8c8c8"/>
<rect x="73.4" y="155.9" width="1.15" height="1.15" fill="#c8c8c8"/>
<rect x="93.5" y="179.7" width="1.15" height="1.15" fill="#c8c8c8"/>
<rect x="60.0" y="197.3" width="1.15" height="1.15" fill="#c8c8c8"/>
<rect x="55.4" y="120.5" width="1.15" height="1.15" fill="#c8c8c8"/>
<rect x="93.9" y="169.3" width="1.15" height="1.15" fill="#c8c8c8"/>
<rect x="55.1" y="118.6" width="1.15" height="1.15" fill="#c8c8c8"/>
<rect x="80.6" y="171.9" width="1.15" height="1.15" fill="#c8c8c8"/>
<rect x="55.9" y="127.5" width="1.15" height="1.15" fill="#c8c8c8"/>
<rect x="116.3" y="132.5" width="1.15" height="1.15" fill="#c8c8c8"/>
<rect x="99.4" y="102.6" width="1.15" height="1.15" fill="#c8c8c8"/>
<rect x="85.7" y="184.6" width="1.15" height="1.15" fill="#c8c8c8"/>
<rect x="97.4" y="117.2" width="1.15" height="1.15" fill="#c8c8c8"/>
<rect x="80.5" y="214.7" width="1.15" height="1.15" fill="#c8c8c8"/>
<rect x="78.4" y="164.2" width="1.15" height="1.15" fill="#c8c8c8"/>
<rect x="92.4" y="172.8" width="1.15" height="1.15" fill="#c8c8c8"/>
<rect x="76.8" y="130.3" width="1.15" height="1.15" fill="#c8c8c8"/>
<rect x="69.2" y="186.2" width="1.15" height="1.15" fill="#c8c8c8"/>
<rect x="72.9" y="183.5" width="1.15" height="1.15" fill="#c8c8c8"/>
<rect x="53.5" y="200.4" width="1.15" height="1.15" fill="#c8c8c8"/>
<rect x="111.1" y="122.4" width="1.15" height="1.15" fill="#c8c8c8"/>
<rect x="106.8" y="135.2" width="1.15" height="1.15" fill="#c8c8c8"/>
<rect x="76.5" y="120.7" width="1.15" height="1.15" fill="#c8c8c8"/>
<rect x="81.6" y="198.3" width="1.15" height="1.15" fill="#c8c8c8"/>
<rect x="93.9" y="134.5" width="1.15" height="1.15" fill="#c8c8c8"/>
<rect x="70.5" y="185.8" width="1.15" height="1.15" fill="#c8c8c8"/>
<rect x="114.8" y="154.8" width="1.15" height="1.15" fill="#c8c8c8"/>
<rect x="64.2" y="163.1" width="1.15" height="1.15" fill="#c8c8c8"/>
<rect x="81.8" y="205.3" width="1.15" height="1.15" fill="#c8c8c8"/>
<rect x="60.6" y="159.4" width="1.15" height="1.15" fill="#c8c8c8"/>
<rect x="43.6" y="173.6" width="1.15" height="1.15" fill="#c8c8c8"/>
<rect x="71.8" y="196.2" width="1.15" height="1.15" fill="#c8c8c8"/>
<rect x="50.9" y="189.7" width="1.15" height="1.15" fill="#c8c8c8"/>
<rect x="112.9" y="152.7" width="1.15" height="1.15" fill="#c8c8c8"/>
<rect x="52.5" y="146.4" width="1.15" height="1.15" fill="#c8c8c8"/>
<rect x="86.8" y="141.8" width="1.15" height="1.15" fill="#c8c8c8"/>
<rect x="94.8" y="163.4" width="1.15" height="1.15" fill="#c8c8c8"/>
<rect x="91.2" y="117.6" width="1.15" height="1.15" fill="#c8c8c8"/>
<rect x="96.6" y="224.6" width="1.15" height="1.15" fill="#c8c8c8"/>
<rect x="57.3" y="173.5" width="1.15" height="1.15" fill="#c8c8c8"/>
<rect x="92.7" y="205.0" width="1.15" height="1.15" fill="#c8c8c8"/>
<rect x="104.0" y="200.5" width="1.15" height="1.15" fill="#c8c8c8"/>
<rect x="52.8" y="130.5" width="1.15" height="1.15" fill="#c8c8c8"/>
<rect x="109.7" y="172.1" width="1.15" height="1.15" fill="#c8c8c8"/>
<rect x="101.5" y="224.0" width="1.15" height="1.15" fill="#c8c8c8"/>
<rect x="95.3" y="135.4" width="1.15" height="1.15" fill="#c8c8c8"/>
<rect x="103.4" y="189.2" width="1.15" height="1.15" fill="#c8c8c8"/>
<rect x="44.2" y="179.8" width="1.15" height="1.15" fill="#c8c8c8"/>
<rect x="121.6" y="206.6" width="1.15" height="1.15" fill="#c8c8c8"/>
<rect x="97.2" y="172.8" width="1.15" height="1.15" fill="#c8c8c8"/>
<rect x="107.6" y="208.8" width="1.15" height="1.15" fill="#c8c8c8"/>
<rect x="74.8" y="136.4" width="1.15" height="1.15" fill="#c8c8c8"/>
<rect x="61.1" y="161.6" width="1.15" height="1.15" fill="#c8c8c8"/>
<rect x="107.8" y="118.1" width="1.15" height="1.15" fill="#c8c8c8"/>
<rect x="46.4" y="138.0" width="1.15" height="1.15" fill="#c8c8c8"/>
<rect x="83.9" y="157.8" width="1.15" height="1.15" fill="#c8c8c8"/>
<rect x="73.0" y="127.3" width="1.15" height="1.15" fill="#c8c8c8"/>
<rect x="49.5" y="191.8" width="1.15" height="1.15" fill="#c8c8c8"/>
<rect x="46.4" y="139.1" width="1.15" height="1.15" fill="#c8c8c8"/>
<rect x="81.9" y="166.2" width="1.15" height="1.15" fill="#c8c8c8"/>
<rect x="71.5" y="220.6" width="1.15" height="1.15" fill="#c8c8c8"/>
<rect x="116.3" y="149.9" width="1.15" height="1.15" fill="#c8c8c8"/>
<rect x="111.6" y="172.9" width="1.15" height="1.15" fill="#c8c8c8"/>
<rect x="79.1" y="211.2" width="1.15" height="1.15" fill="#c8c8c8"/>
<rect x="103.5" y="133.3" width="1.15" height="1.15" fill="#c8c8c8"/>
<rect x="91.2" y="201.4" width="1.15" height="1.15" fill="#c8c8c8"/>
<rect x="47.6" y="214.5" width="1.15" height="1.15" fill="#c8c8c8"/>
<rect x="46.0" y="138.6" width="1.15" height="1.15" fill="#c8c8c8"/>
<rect x="59.0" y="163.7" width="1.15" height="1.15" fill="#c8c8c8"/>
<rect x="73.6" y="169.7" width="1.15" height="1.15" fill="#c8c8c8"/>
<rect x="62.4" y="135.6" width="1.15" height="1.15" fill="#c8c8c8"/>
<rect x="71.4" y="151.1" width="1.15" height="1.15" fill="#c8c8c8"/>
<rect x="98.4" y="143.7" width="1.15" height="1.15" fill="#c8c8c8"/>
<rect x="74.5" y="192.0" width="1.15" height="1.15" fill="#c8c8c8"/>
<rect x="97.4" y="198.7" width="1.15" height="1.15" fill="#c8c8c8"/>
<rect x="79.4" y="222.3" width="1.15" height="1.15" fill="#c8c8c8"/>
<rect x="80.5" y="208.0" width="1.15" height="1.15" fill="#c8c8c8"/>
<rect x="114.4" y="194.1" width="1.15" height="1.15" fill="#c8c8c8"/>
<rect x="58.5" y="190.3" width="1.15" height="1.15" fill="#c8c8c8"/>
<rect x="56.3" y="126.2" width="1.15" height="1.15" fill="#c8c8c8"/>
<rect x="113.4" y="167.4" width="1.15" height="1.15" fill="#c8c8c8"/>
<rect x="81.4" y="209.9" width="1.15" height="1.15" fill="#c8c8c8"/>
<rect x="44.8" y="115.7" width="1.15" height="1.15" fill="#c8c8c8"/>
<rect x="128.6" y="160.7" width="1.15" height="1.15" fill="#c8c8c8"/>
<rect x="114.9" y="150.7" width="1.15" height="1.15" fill="#c8c8c8"/>
<rect x="45.9" y="184.1" width="1.15" height="1.15" fill="#c8c8c8"/>
<rect x="88.4" y="115.8" width="1.15" height="1.15" fill="#c8c8c8"/>
<rect x="50.0" y="159.0" width="1.15" height="1.15" fill="#c8c8c8"/>
<rect x="44.9" y="169.9" width="1.15" height="1.15" fill="#c8c8c8"/>
<rect x="62.9" y="183.9" width="1.15" height="1.15" fill="#c8c8c8"/>
<rect x="59.1" y="141.7" width="1.15" height="1.15" fill="#c8c8c8"/>
<rect x="55.6" y="221.9" width="1.15" height="1.15" fill="#c8c8c8"/>
<rect x="82.1" y="149.8" width="1.15" height="1.15" fill="#c8c8c8"/>
<rect x="56.0" y="170.5" width="1.15" height="1.15" fill="#c8c8c8"/>
<rect x="94.2" y="211.7" width="1.15" height="1.15" fill="#c8c8c8"/>
<rect x="82.6" y="156.4" width="1.15" height="1.15" fill="#c8c8c8"/>
<rect x="118.6" y="120.8" width="1.15" height="1.15" fill="#c8c8c8"/>
<rect x="54.7" y="216.7" width="1.15" height="1.15" fill="#c8c8c8"/>
<rect x="100.2" y="218.2" width="1.15" height="1.15" fill="#c8c8c8"/>
<rect x="106.2" y="180.8" width="1.15" height="1.15" fill="#c8c8c8"/>
<rect x="79.2" y="144.8" width="1.15" height="1.15" fill="#c8c8c8"/>
<rect x="89.7" y="137.7" width="1.15" height="1.15" fill="#c8c8c8"/>
<rect x="55.2" y="150.4" width="1.15" height="1.15" fill="#c8c8c8"/>
<rect x="95.3" y="189.1" width="1.15" height="1.15" fill="#c8c8c8"/>
<rect x="96.4" y="126.6" width="1.15" height="1.15" fill="#c8c8c8"/>
<rect x="62.9" y="205.0" width="1.15" height="1.15" fill="#c8c8c8"/>
<rect x="55.6" y="134.8" width="1.15" height="1.15" fill="#c8c8c8"/>
<rect x="50.0" y="151.6" width="1.15" height="1.15" fill="#c8c8c8"/>
<rect x="82.0" y="146.3" width="1.15" height="1.15" fill="#c8c8c8"/>
<rect x="74.2" y="116.1" width="1.15" height="1.15" fill="#c8c8c8"/>
<rect x="107.4" y="131.9" width="1.15" height="1.15" fill="#c8c8c8"/>
<rect x="85.6" y="199.6" width="1.15" height="1.15" fill="#c8c8c8"/>
<rect x="91.8" y="142.2" width="1.15" height="1.15" fill="#c8c8c8"/>
<rect x="45.8" y="117.8" width="1.15" height="1.15" fill="#c8c8c8"/>
<rect x="91.6" y="183.2" width="1.15" height="1.15" fill="#c8c8c8"/>
<rect x="70.0" y="191.3" width="1.15" height="1.15" fill="#c8c8c8"/>
<rect x="79.6" y="209.7" width="1.15" height="1.15" fill="#c8c8c8"/>
<rect x="91.6" y="160.2" width="1.15" height="1.15" fill="#c8c8c8"/>
<rect x="52.9" y="124.0" width="1.15" height="1.15" fill="#c8c8c8"/>
<rect x="127.0" y="135.7" width="1.15" height="1.15" fill="#c8c8c8"/>
<rect x="109.3" y="170.7" width="1.15" height="1.15" fill="#c8c8c8"/>
<rect x="66.8" y="107.0" width="1.15" height="1.15" fill="#c8c8c8"/>
<rect x="109.3" y="148.8" width="1.15" height="1.15" fill="#c8c8c8"/>
<rect x="42.2" y="119.7" width="1.15" height="1.15" fill="#c8c8c8"/>
<rect x="42.2" y="152.8" width="1.15" height="1.15" fill="#c8c8c8"/>
<rect x="42.2" y="134.7" width="1.15" height="1.15" fill="#c8c8c8"/>
<rect x="42.2" y="175.5" width="1.15" height="1.15" fill="#c8c8c8"/>
<rect x="42.2" y="146.8" width="1.15" height="1.15" fill="#c8c8c8"/>
<rect x="42.2" y="167.6" width="1.15" height="1.15" fill="#c8c8c8"/>
<rect x="42.2" y="217.1" width="1.15" height="1.15" fill="#c8c8c8"/>
<rect x="42.2" y="177.4" width="1.15" height="1.15" fill="#c8c8c8"/>
<rect x="42.2" y="179.4" width="1.15" height="1.15" fill="#c8c8c8"/>
<rect x="42.2" y="84.0" width="1.15" height="1.15" fill="#c8c8c8"/>
<rect x="42.2" y="156.7" width="1.15" height="1.15" fill="#c8c8c8"/>
<rect x="42.2" y="173.1" width="1.15" height="1.15" fill="#c8c8c8"/>
<rect x="42.2" y="190.9" width="1.15" height="1.15" fill="#c8c8c8"/>
<rect x="42.2" y="192.1" width="1.15" height="1.15" fill="#c8c8c8"/>
<rect x="42.2" y="175.7" width="1.15" height="1.15" fill="#c8c8c8"/>
<rect x="42.2" y="206.3" width="1.15" height="1.15" fill="#c8c8c8"/>
<rect x="42.2" y="224.8" width="1.15" height="1.15" fill="#c8c8c8"/>
<rect x="42.2" y="100.8" width="1.15" height="1.15" fill="#c8c8c8"/>
<rect x="42.2" y="160.8" width="1.15" height="1.15" fill="#c8c8c8"/>
<rect x="42.2" y="161.9" width="1.15" height="1.15" fill="#c8c8c8"/>
<rect x="42.2" y="144.2" width="1.15" height="1.15" fill="#c8c8c8"/>
<rect x="42.2" y="182.4" width="1.15" height="1.15" fill="#c8c8c8"/>
<rect x="42.2" y="201.6" width="1.15" height="1.15" fill="#c8c8c8"/>
<rect x="42.2" y="216.3" width="1.15" height="1.15" fill="#c8c8c8"/>
<rect x="42.2" y="182.5" width="1.15" height="1.15" fill="#c8c8c8"/>
<rect x="42.2" y="181.5" width="1.15" height="1.15" fill="#c8c8c8"/>
<rect x="42.2" y="121.5" width="1.15" height="1.15" fill="#c8c8c8"/>
<rect x="42.2" y="146.7" width="1.15" height="1.15" fill="#c8c8c8"/>
<rect x="42.2" y="91.3" width="1.15" height="1.15" fill="#c8c8c8"/>
<rect x="42.2" y="177.0" width="1.15" height="1.15" fill="#c8c8c8"/>
<rect x="42.2" y="93.6" width="1.15" height="1.15" fill="#c8c8c8"/>
<rect x="42.2" y="142.1" width="1.15" height="1.15" fill="#c8c8c8"/>
<rect x="42.2" y="214.3" width="1.15" height="1.15" fill="#c8c8c8"/>
<rect x="42.2" y="200.2" width="1.15" height="1.15" fill="#c8c8c8"/>
<rect x="42.2" y="142.5" width="1.15" height="1.15" fill="#c8c8c8"/>
<rect x="42.2" y="84.1" width="1.15" height="1.15" fill="#c8c8c8"/>
<rect x="42.2" y="174.6" width="1.15" height="1.15" fill="#c8c8c8"/>
<rect x="42.2" y="114.7" width="1.15" height="1.15" fill="#c8c8c8"/>
<rect x="42.2" y="164.4" width="1.15" height="1.15" fill="#c8c8c8"/>
<rect x="42.2" y="101.2" width="1.15" height="1.15" fill="#c8c8c8"/>
<rect x="42.2" y="216.1" width="1.15" height="1.15" fill="#c8c8c8"/>
<rect x="42.2" y="156.3" width="1.15" height="1.15" fill="#c8c8c8"/>
<rect x="42.2" y="96.8" width="1.15" height="1.15" fill="#c8c8c8"/>
<rect x="42.2" y="186.2" width="1.15" height="1.15" fill="#c8c8c8"/>
<rect x="42.2" y="188.9" width="1.15" height="1.15" fill="#c8c8c8"/>
<rect x="42.2" y="222.5" width="1.15" height="1.15" fill="#c8c8c8"/>
<rect x="42.2" y="202.2" width="1.15" height="1.15" fill="#c8c8c8"/>
<rect x="42.2" y="187.3" width="1.15" height="1.15" fill="#c8c8c8"/>
<rect x="42.2" y="124.7" width="1.15" height="1.15" fill="#c8c8c8"/>
<rect x="42.2" y="194.5" width="1.15" height="1.15" fill="#c8c8c8"/>
<rect x="42.2" y="168.5" width="1.15" height="1.15" fill="#c8c8c8"/>
<rect x="42.2" y="197.1" width="1.15" height="1.15" fill="#c8c8c8"/>
<rect x="42.2" y="139.3" width="1.15" height="1.15" fill="#c8c8c8"/>
<rect x="42.2" y="101.8" width="1.15" height="1.15" fill="#c8c8c8"/>
<rect x="42.2" y="132.8" width="1.15" height="1.15" fill="#c8c8c8"/>
<rect x="42.2" y="197.6" width="1.15" height="1.15" fill="#c8c8c8"/>
<rect x="42.2" y="120.5" width="1.15" height="1.15" fill="#c8c8c8"/>
<rect x="42.2" y="87.6" width="1.15" height="1.15" fill="#c8c8c8"/>
<rect x="42.2" y="139.6" width="1.15" height="1.15" fill="#c8c8c8"/>
<rect x="42.2" y="214.4" width="1.15" height="1.15" fill="#c8c8c8"/>
<rect x="42.2" y="109.7" width="1.15" height="1.15" fill="#c8c8c8"/>
<rect x="42.2" y="100.2" width="1.15" height="1.15" fill="#c8c8c8"/>
<rect x="42.2" y="176.9" width="1.15" height="1.15" fill="#c8c8c8"/>
<rect x="42.2" y="206.2" width="1.15" height="1.15" fill="#c8c8c8"/>
<rect x="42.2" y="198.8" width="1.15" height="1.15" fill="#c8c8c8"/>
<rect x="42.2" y="148.8" width="1.15" height="1.15" fill="#c8c8c8"/>
<rect x="42.2" y="100.2" width="1.15" height="1.15" fill="#c8c8c8"/>
<rect x="42.2" y="134.0" width="1.15" height="1.15" fill="#c8c8c8"/>
<rect x="42.2" y="93.4" width="1.15" height="1.15" fill="#c8c8c8"/>
<rect x="42.2" y="195.4" width="1.15" height="1.15" fill="#c8c8c8"/>
<rect x="42.2" y="178.9" width="1.15" height="1.15" fill="#c8c8c8"/>
<rect x="42.2" y="118.3" width="1.15" height="1.15" fill="#c8c8c8"/>
<rect x="42.2" y="132.7" width="1.15" height="1.15" fill="#c8c8c8"/>
<rect x="42.2" y="167.6" width="1.15" height="1.15" fill="#c8c8c8"/>
<rect x="42.2" y="128.4" width="1.15" height="1.15" fill="#c8c8c8"/>
<rect x="42.2" y="177.3" width="1.15" height="1.15" fill="#c8c8c8"/>
<rect x="42.2" y="217.6" width="1.15" height="1.15" fill="#c8c8c8"/>
<rect x="42.2" y="166.4" width="1.15" height="1.15" fill="#c8c8c8"/>
<rect x="42.2" y="219.3" width="1.15" height="1.15" fill="#c8c8c8"/>
<rect x="42.2" y="135.9" width="1.15" height="1.15" fill="#c8c8c8"/>
<rect x="42.2" y="177.8" width="1.15" height="1.15" fill="#c8c8c8"/>
<rect x="42.2" y="154.9" width="1.15" height="1.15" fill="#c8c8c8"/>
<rect x="42.2" y="140.0" width="1.15" height="1.15" fill="#c8c8c8"/>
<rect x="42.2" y="188.9" width="1.15" height="1.15" fill="#c8c8c8"/>
<rect x="42.2" y="159.3" width="1.15" height="1.15" fill="#c8c8c8"/>
<rect x="42.2" y="223.8" width="1.15" height="1.15" fill="#c8c8c8"/>
<rect x="42.2" y="93.0" width="1.15" height="1.15" fill="#c8c8c8"/>
<rect x="42.2" y="144.9" width="1.15" height="1.15" fill="#c8c8c8"/>
<rect x="42.2" y="84.1" width="1.15" height="1.15" fill="#c8c8c8"/>
<rect x="42.2" y="217.8" width="1.15" height="1.15" fill="#c8c8c8"/>
<rect x="42.2" y="137.7" width="1.15" height="1.15" fill="#c8c8c8"/>
<rect x="42.2" y="121.9" width="1.15" height="1.15" fill="#c8c8c8"/>
<rect x="42.2" y="178.6" width="1.15" height="1.15" fill="#c8c8c8"/>
<rect x="42.2" y="212.4" width="1.15" height="1.15" fill="#c8c8c8"/>
<rect x="42.2" y="203.4" width="1.15" height="1.15" fill="#c8c8c8"/>
<rect x="42.2" y="205.3" width="1.15" height="1.15" fill="#c8c8c8"/>
<rect x="42.2" y="115.7" width="1.15" height="1.15" fill="#c8c8c8"/>
<rect x="42.2" y="212.9" width="1.15" height="1.15" fill="#c8c8c8"/>
<rect x="42.2" y="109.0" width="1.15" height="1.15" fill="#c8c8c8"/>
<rect x="42.2" y="165.1" width="1.15" height="1.15" fill="#c8c8c8"/>
<rect x="42.2" y="148.5" width="1.15" height="1.15" fill="#c8c8c8"/>
<rect x="42.2" y="141.4" width="1.15" height="1.15" fill="#c8c8c8"/>
<rect x="42.2" y="146.2" width="1.15" height="1.15" fill="#c8c8c8"/>
<rect x="42.2" y="131.5" width="1.15" height="1.15" fill="#c8c8c8"/>
<rect x="42.2" y="139.5" width="1.15" height="1.15" fill="#c8c8c8"/>
<rect x="42.2" y="178.3" width="1.15" height="1.15" fill="#c8c8c8"/>
<rect x="42.2" y="119.5" width="1.15" height="1.15" fill="#c8c8c8"/>
<rect x="42.2" y="188.8" width="1.15" height="1.15" fill="#c8c8c8"/>
<rect x="42.2" y="123.7" width="1.15" height="1.15" fill="#c8c8c8"/>
<rect x="42.2" y="116.3" width="1.15" height="1.15" fill="#c8c8c8"/>
<rect x="42.2" y="114.5" width="1.15" height="1.15" fill="#c8c8c8"/>
<rect x="42.2" y="181.4" width="1.15" height="1.15" fill="#c8c8c8"/>
<rect x="42.2" y="115.0" width="1.15" height="1.15" fill="#c8c8c8"/>
<rect x="42.2" y="85.6" width="1.15" height="1.15" fill="#c8c8c8"/>
<rect x="42.2" y="160.8" width="1.15" height="1.15" fill="#c8c8c8"/>
<rect x="42.2" y="185.9" width="1.15" height="1.15" fill="#c8c8c8"/>
<rect x="42.2" y="150.7" width="1.15" height="1.15" fill="#c8c8c8"/>
<rect x="42.2" y="90.8" width="1.15" height="1.15" fill="#c8c8c8"/>
<rect x="42.2" y="206.9" width="1.15" height="1.15" fill="#c8c8c8"/>
<rect x="42.2" y="224.5" width="1.15" height="1.15" fill="#c8c8c8"/>
<rect x="42.2" y="157.5" width="1.15" height="1.15" fill="#c8c8c8"/>
<rect x="42.2" y="131.8" width="1.15" height="1.15" fill="#c8c8c8"/>
<rect x="42.2" y="114.7" width="1.15" height="1.15" fill="#c8c8c8"/>
<rect x="42.2" y="173.8" width="1.15" height="1.15" fill="#c8c8c8"/>
<rect x="42.2" y="83.8" width="1.15" height="1.15" fill="#c8c8c8"/>
<rect x="42.2" y="193.1" width="1.15" height="1.15" fill="#c8c8c8"/>
<rect x="42.2" y="117.3" width="1.15" height="1.15" fill="#c8c8c8"/>
<rect x="42.2" y="212.9" width="1.15" height="1.15" fill="#c8c8c8"/>
<rect x="42.2" y="221.8" width="1.15" height="1.15" fill="#c8c8c8"/>
<rect x="42.2" y="206.6" width="1.15" height="1.15" fill="#c8c8c8"/>
<rect x="42.2" y="217.2" width="1.15" height="1.15" fill="#c8c8c8"/>
<rect x="42.2" y="153.8" width="1.15" height="1.15" fill="#c8c8c8"/>
<rect x="42.2" y="146.1" width="1.15" height="1.15" fill="#c8c8c8"/>
<rect x="42.2" y="199.7" width="1.15" height="1.15" fill="#c8c8c8"/>
<rect x="42.2" y="91.0" width="1.15" height="1.15" fill="#c8c8c8"/>
<rect x="42.2" y="173.3" width="1.15" height="1.15" fill="#c8c8c8"/>
<rect x="42.2" y="204.4" width="1.15" height="1.15" fill="#c8c8c8"/>
<rect x="42.2" y="200.3" width="1.15" height="1.15" fill="#c8c8c8"/>
<rect x="42.2" y="120.0" width="1.15" height="1.15" fill="#c8c8c8"/>
<rect x="42.2" y="93.6" width="1.15" height="1.15" fill="#c8c8c8"/>
<rect x="42.2" y="202.5" width="1.15" height="1.15" fill="#c8c8c8"/>
<rect x="42.2" y="221.6" width="1.15" height="1.15" fill="#c8c8c8"/>
<rect x="42.2" y="114.2" width="1.15" height="1.15" fill="#c8c8c8"/>
<rect x="42.2" y="191.0" width="1.15" height="1.15" fill="#c8c8c8"/>
<rect x="42.2" y="84.9" width="1.15" height="1.15" fill="#c8c8c8"/>
<rect x="42.2" y="154.2" width="1.15" height="1.15" fill="#c8c8c8"/>
<rect x="42.2" y="134.5" width="1.15" height="1.15" fill="#c8c8c8"/>
<rect x="42.2" y="176.4" width="1.15" height="1.15" fill="#c8c8c8"/>
<rect x="42.2" y="110.9" width="1.15" height="1.15" fill="#c8c8c8"/>
<rect x="42.2" y="159.8" width="1.15" height="1.15" fill="#c8c8c8"/>
<rect x="42.2" y="59.5" width="1.15" height="1.15" fill="#c8c8c8"/>
<rect x="42.2" y="50.2" width="1.15" height="1.15" fill="#c8c8c8"/>
<rect x="42.2" y="63.0" width="1.15" height="1.15" fill="#c8c8c8"/>
<rect x="42.2" y="52.9" width="1.15" height="1.15" fill="#c8c8c8"/>
<rect x="49.0" y="225.8" width="1.15" height="1.15" fill="#c8c8c8"/>
<rect x="109.8" y="225.8" width="1.15" height="1.15" fill="#c8c8c8"/>
<rect x="84.3" y="225.8" width="1.15" height="1.15" fill="#c8c8c8"/>
<rect x="132.6" y="225.8" width="1.15" height="1.15" fill="#c8c8c8"/>
<rect x="48.5" y="225.8" width="1.15" height="1.15" fill="#c8c8c8"/>
<rect x="101.3" y="225.8" width="1.15" height="1.15" fill="#c8c8c8"/>
<rect x="85.1" y="225.8" width="1.15" height="1.15" fill="#c8c8c8"/>
<rect x="138.4" y="225.8" width="1.15" height="1.15" fill="#c8c8c8"/>
<rect x="141.1" y="225.8" width="1.15" height="1.15" fill="#c8c8c8"/>
<rect x="107.8" y="225.8" width="1.15" height="1.15" fill="#c8c8c8"/>
<rect x="65.7" y="225.8" width="1.15" height="1.15" fill="#c8c8c8"/>
<rect x="68.6" y="225.8" width="1.15" height="1.15" fill="#c8c8c8"/>
<rect x="69.7" y="225.8" width="1.15" height="1.15" fill="#c8c8c8"/>
<rect x="87.6" y="225.8" width="1.15" height="1.15" fill="#c8c8c8"/>
<rect x="66.4" y="225.8" width="1.15" height="1.15" fill="#c8c8c8"/>
<rect x="63.5" y="225.8" width="1.15" height="1.15" fill="#c8c8c8"/>
<rect x="121.7" y="225.8" width="1.15" height="1.15" fill="#c8c8c8"/>
<rect x="109.5" y="225.8" width="1.15" height="1.15" fill="#c8c8c8"/>
<rect x="73.4" y="225.8" width="1.15" height="1.15" fill="#c8c8c8"/>
<rect x="146.3" y="225.8" width="1.15" height="1.15" fill="#c8c8c8"/>
<rect x="64.9" y="225.8" width="1.15" height="1.15" fill="#c8c8c8"/>
<rect x="101.8" y="225.8" width="1.15" height="1.15" fill="#c8c8c8"/>
<rect x="58.6" y="225.8" width="1.15" height="1.15" fill="#c8c8c8"/>
<rect x="132.5" y="225.8" width="1.15" height="1.15" fill="#c8c8c8"/>
<rect x="133.2" y="225.8" width="1.15" height="1.15" fill="#c8c8c8"/>
<rect x="70.2" y="225.8" width="1.15" height="1.15" fill="#c8c8c8"/>
<rect x="120.9" y="225.8" width="1.15" height="1.15" fill="#c8c8c8"/>
<rect x="128.3" y="225.8" width="1.15" height="1.15" fill="#c8c8c8"/>
<rect x="71.8" y="225.8" width="1.15" height="1.15" fill="#c8c8c8"/>
<rect x="76.9" y="225.8" width="1.15" height="1.15" fill="#c8c8c8"/>
<rect x="93.0" y="225.8" width="1.15" height="1.15" fill="#c8c8c8"/>
<rect x="135.5" y="225.8" width="1.15" height="1.15" fill="#c8c8c8"/>
<rect x="59.1" y="225.8" width="1.15" height="1.15" fill="#c8c8c8"/>
<rect x="113.7" y="225.8" width="1.15" height="1.15" fill="#c8c8c8"/>
<rect x="104.8" y="225.8" width="1.15" height="1.15" fill="#c8c8c8"/>
<rect x="89.6" y="225.8" width="1.15" height="1.15" fill="#c8c8c8"/>
<rect x="102.8" y="225.8" width="1.15" height="1.15" fill="#c8c8c8"/>
<rect x="134.6" y="225.8" width="1.15" height="1.15" fill="#c8c8c8"/>
<rect x="64.2" y="225.8" width="1.15" height="1.15" fill="#c8c8c8"/>
<rect x="134.7" y="225.8" width="1.15" height="1.15" fill="#c8c8c8"/>
<rect x="79.9" y="225.8" width="1.15" height="1.15" fill="#c8c8c8"/>
<rect x="123.8" y="225.8" width="1.15" height="1.15" fill="#c8c8c8"/>
<rect x="132.6" y="225.8" width="1.15" height="1.15" fill="#c8c8c8"/>
<rect x="61.3" y="225.8" width="1.15" height="1.15" fill="#c8c8c8"/>
<rect x="132.6" y="225.8" width="1.15" height="1.15" fill="#c8c8c8"/>
<rect x="146.3" y="225.8" width="1.15" height="1.15" fill="#c8c8c8"/>
<rect x="73.4" y="225.8" width="1.15" height="1.15" fill="#c8c8c8"/>
<rect x="44.8" y="225.8" width="1.15" height="1.15" fill="#c8c8c8"/>
<rect x="53.9" y="225.8" width="1.15" height="1.15" fill="#c8c8c8"/>
<rect x="144.2" y="225.8" width="1.15" height="1.15" fill="#c8c8c8"/>
<rect x="43.2" y="225.8" width="1.15" height="1.15" fill="#c8c8c8"/>
<rect x="137.6" y="225.8" width="1.15" height="1.15" fill="#c8c8c8"/>
<rect x="58.0" y="225.8" width="1.15" height="1.15" fill="#c8c8c8"/>
<rect x="119.2" y="225.8" width="1.15" height="1.15" fill="#c8c8c8"/>
<rect x="52.4" y="225.8" width="1.15" height="1.15" fill="#c8c8c8"/>
<rect x="59.9" y="225.8" width="1.15" height="1.15" fill="#c8c8c8"/>
<rect x="113.7" y="225.8" width="1.15" height="1.15" fill="#c8c8c8"/>
<rect x="51.6" y="225.8" width="1.15" height="1.15" fill="#c8c8c8"/>
<rect x="77.7" y="225.8" width="1.15" height="1.15" fill="#c8c8c8"/>
<rect x="138.3" y="225.8" width="1.15" height="1.15" fill="#c8c8c8"/>
<rect x="117.2" y="225.8" width="1.15" height="1.15" fill="#c8c8c8"/>
<rect x="134.5" y="225.8" width="1.15" height="1.15" fill="#c8c8c8"/>
<rect x="144.7" y="225.8" width="1.15" height="1.15" fill="#c8c8c8"/>
<rect x="45.6" y="225.8" width="1.15" height="1.15" fill="#c8c8c8"/>
<rect x="66.8" y="225.8" width="1.15" height="1.15" fill="#c8c8c8"/>
<rect x="125.1" y="225.8" width="1.15" height="1.15" fill="#c8c8c8"/>
<rect x="114.4" y="225.8" width="1.15" height="1.15" fill="#c8c8c8"/>
<rect x="46.2" y="225.8" width="1.15" height="1.15" fill="#c8c8c8"/>
<rect x="95.0" y="225.8" width="1.15" height="1.15" fill="#c8c8c8"/>
<rect x="66.4" y="225.8" width="1.15" height="1.15" fill="#c8c8c8"/>
<rect x="87.3" y="225.8" width="1.15" height="1.15" fill="#c8c8c8"/>
<rect x="53.2" y="225.8" width="1.15" height="1.15" fill="#c8c8c8"/>
<rect x="44.3" y="225.8" width="1.15" height="1.15" fill="#c8c8c8"/>
<rect x="145.9" y="225.8" width="1.15" height="1.15" fill="#c8c8c8"/>
<rect x="75.3" y="225.8" width="1.15" height="1.15" fill="#c8c8c8"/>
<rect x="134.2" y="225.8" width="1.15" height="1.15" fill="#c8c8c8"/>
<rect x="54.8" y="225.8" width="1.15" height="1.15" fill="#c8c8c8"/>
<rect x="93.2" y="225.8" width="1.15" height="1.15" fill="#c8c8c8"/>
<rect x="56.4" y="225.8" width="1.15" height="1.15" fill="#c8c8c8"/>
<rect x="87.1" y="225.8" width="1.15" height="1.15" fill="#c8c8c8"/>
<rect x="60.9" y="225.8" width="1.15" height="1.15" fill="#c8c8c8"/>
<rect x="113.9" y="225.8" width="1.15" height="1.15" fill="#c8c8c8"/>
<rect x="57.7" y="225.8" width="1.15" height="1.15" fill="#c8c8c8"/>
<rect x="119.5" y="225.8" width="1.15" height="1.15" fill="#c8c8c8"/>
<rect x="94.6" y="225.8" width="1.15" height="1.15" fill="#c8c8c8"/>
<rect x="54.0" y="225.8" width="1.15" height="1.15" fill="#c8c8c8"/>
<rect x="79.2" y="225.8" width="1.15" height="1.15" fill="#c8c8c8"/>
<rect x="94.1" y="225.8" width="1.15" height="1.15" fill="#c8c8c8"/>
<rect x="138.4" y="225.8" width="1.15" height="1.15" fill="#c8c8c8"/>
<rect x="78.8" y="225.8" width="1.15" height="1.15" fill="#c8c8c8"/>
<rect x="64.7" y="225.8" width="1.15" height="1.15" fill="#c8c8c8"/>
<rect x="143.5" y="225.8" width="1.15" height="1.15" fill="#c8c8c8"/>
<rect x="134.6" y="225.8" width="1.15" height="1.15" fill="#c8c8c8"/>
<rect x="118.8" y="225.8" width="1.15" height="1.15" fill="#c8c8c8"/>
<rect x="70.8" y="225.8" width="1.15" height="1.15" fill="#c8c8c8"/>
<rect x="60.8" y="225.8" width="1.15" height="1.15" fill="#c8c8c8"/>
<rect x="69.9" y="225.8" width="1.15" height="1.15" fill="#c8c8c8"/>
<rect x="49.4" y="225.8" width="1.15" height="1.15" fill="#c8c8c8"/>
<rect x="46.7" y="225.8" width="1.15" height="1.15" fill="#c8c8c8"/>
<rect x="95.5" y="225.8" width="1.15" height="1.15" fill="#c8c8c8"/>
<rect x="84.9" y="225.8" width="1.15" height="1.15" fill="#c8c8c8"/>
<rect x="100.5" y="225.8" width="1.15" height="1.15" fill="#c8c8c8"/>
<rect x="80.2" y="225.8" width="1.15" height="1.15" fill="#c8c8c8"/>
<rect x="43.3" y="225.8" width="1.15" height="1.15" fill="#c8c8c8"/>
<rect x="114.2" y="225.8" width="1.15" height="1.15" fill="#c8c8c8"/>
<rect x="110.6" y="225.8" width="1.15" height="1.15" fill="#c8c8c8"/>
<rect x="99.1" y="225.8" width="1.15" height="1.15" fill="#c8c8c8"/>
<rect x="99.6" y="225.8" width="1.15" height="1.15" fill="#c8c8c8"/>
<rect x="114.5" y="225.8" width="1.15" height="1.15" fill="#c8c8c8"/>
<rect x="145.0" y="225.8" width="1.15" height="1.15" fill="#c8c8c8"/>
<rect x="133.7" y="225.8" width="1.15" height="1.15" fill="#c8c8c8"/>
<rect x="117.3" y="225.8" width="1.15" height="1.15" fill="#c8c8c8"/>
<rect x="84.0" y="225.8" width="1.15" height="1.15" fill="#c8c8c8"/>
<rect x="75.5" y="225.8" width="1.15" height="1.15" fill="#c8c8c8"/>
<rect x="86.1" y="225.8" width="1.15" height="1.15" fill="#c8c8c8"/>
<rect x="144.0" y="225.8" width="1.15" height="1.15" fill="#c8c8c8"/>
<rect x="82.7" y="225.8" width="1.15" height="1.15" fill="#c8c8c8"/>
<rect x="82.5" y="225.8" width="1.15" height="1.15" fill="#c8c8c8"/>
<rect x="85.1" y="225.8" width="1.15" height="1.15" fill="#c8c8c8"/>
<rect x="57.2" y="225.8" width="1.15" height="1.15" fill="#c8c8c8"/>
<rect x="146.7" y="225.8" width="1.15" height="1.15" fill="#c8c8c8"/>
<rect x="42.7" y="225.8" width="1.15" height="1.15" fill="#c8c8c8"/>
<rect x="105.8" y="225.8" width="1.15" height="1.15" fill="#c8c8c8"/>
<rect x="139.2" y="225.8" width="1.15" height="1.15" fill="#c8c8c8"/>
<rect x="68.9" y="225.8" width="1.15" height="1.15" fill="#c8c8c8"/>
<rect x="106.1" y="225.8" width="1.15" height="1.15" fill="#c8c8c8"/>
<rect x="81.7" y="225.8" width="1.15" height="1.15" fill="#c8c8c8"/>
<rect x="67.4" y="225.8" width="1.15" height="1.15" fill="#c8c8c8"/>
<rect x="63.0" y="225.8" width="1.15" height="1.15" fill="#c8c8c8"/>
<rect x="54.4" y="225.8" width="1.15" height="1.15" fill="#c8c8c8"/>
<rect x="130.4" y="225.8" width="1.15" height="1.15" fill="#c8c8c8"/>
<rect x="124.3" y="225.8" width="1.15" height="1.15" fill="#c8c8c8"/>
<rect x="137.3" y="225.8" width="1.15" height="1.15" fill="#c8c8c8"/>
<rect x="47.4" y="225.8" width="1.15" height="1.15" fill="#c8c8c8"/>
<rect x="114.9" y="225.8" width="1.15" height="1.15" fill="#c8c8c8"/>
<rect x="76.2" y="225.8" width="1.15" height="1.15" fill="#c8c8c8"/>
<rect x="109.8" y="225.8" width="1.15" height="1.15" fill="#c8c8c8"/>
<rect x="99.7" y="225.8" width="1.15" height="1.15" fill="#c8c8c8"/>
<rect x="75.2" y="225.8" width="1.15" height="1.15" fill="#c8c8c8"/>
<rect x="143.9" y="225.8" width="1.15" height="1.15" fill="#c8c8c8"/>
<rect x="42.3" y="225.8" width="1.15" height="1.15" fill="#c8c8c8"/>
<rect x="120.3" y="225.8" width="1.15" height="1.15" fill="#c8c8c8"/>
<rect x="131.5" y="225.8" width="1.15" height="1.15" fill="#c8c8c8"/>
<rect x="95.6" y="225.8" width="1.15" height="1.15" fill="#c8c8c8"/>
<rect x="104.2" y="225.8" width="1.15" height="1.15" fill="#c8c8c8"/>
<rect x="146.3" y="225.8" width="1.15" height="1.15" fill="#c8c8c8"/>
<rect x="66.7" y="225.8" width="1.15" height="1.15" fill="#c8c8c8"/>
<rect x="108.1" y="225.8" width="1.15" height="1.15" fill="#c8c8c8"/>
<rect x="120.0" y="225.8" width="1.15" height="1.15" fill="#c8c8c8"/>
<rect x="81.9" y="225.8" width="1.15" height="1.15" fill="#c8c8c8"/>
<rect x="160.3" y="225.8" width="1.15" height="1.15" fill="#c8c8c8"/>
<rect x="158.2" y="225.8" width="1.15" height="1.15" fill="#c8c8c8"/>
<rect x="159.1" y="225.8" width="1.15" height="1.15" fill="#c8c8c8"/>
<rect x="159.7" y="225.8" width="1.15" height="1.15" fill="#c8c8c8"/>
<rect x="113.0" y="104.4" width="1.15" height="1.15" fill="#c8c8c8"/>
<rect x="108.2" y="93.4" width="1.15" height="1.15" fill="#c8c8c8"/>
<rect x="67.9" y="89.9" width="1.15" height="1.15" fill="#c8c8c8"/>
<rect x="72.0" y="75.2" width="1.15" height="1.15" fill="#c8c8c8"/>
<rect x="92.7" y="84.5" width="1.15" height="1.15" fill="#c8c8c8"/>
<rect x="97.6" y="96.7" width="1.15" height="1.15" fill="#c8c8c8"/>
<rect x="67.6" y="113.3" width="1.15" height="1.15" fill="#c8c8c8"/>
<rect x="137.9" y="94.1" width="1.15" height="1.15" fill="#c8c8c8"/>
<rect x="97.8" y="94.1" width="1.15" height="1.15" fill="#c8c8c8"/>
<rect x="126.6" y="108.5" width="1.15" height="1.15" fill="#c8c8c8"/>
<rect x="62.8" y="79.5" width="1.15" height="1.15" fill="#c8c8c8"/>
<rect x="91.4" y="88.5" width="1.15" height="1.15" fill="#c8c8c8"/>
<rect x="128.0" y="75.9" width="1.15" height="1.15" fill="#c8c8c8"/>
<rect x="132.0" y="118.2" width="1.15" height="1.15" fill="#c8c8c8"/>
<rect x="83.6" y="79.0" width="1.15" height="1.15" fill="#c8c8c8"/>
<rect x="127.0" y="114.3" width="1.15" height="1.15" fill="#c8c8c8"/>
<rect x="60.9" y="107.9" width="1.15" height="1.15" fill="#c8c8c8"/>
<rect x="55.9" y="102.6" width="1.15" height="1.15" fill="#c8c8c8"/>
<rect x="125.6" y="94.4" width="1.15" height="1.15" fill="#c8c8c8"/>
<rect x="90.7" y="116.0" width="1.15" height="1.15" fill="#c8c8c8"/>
<rect x="85.0" y="70.8" width="1.15" height="1.15" fill="#c8c8c8"/>
<rect x="114.8" y="98.0" width="1.15" height="1.15" fill="#c8c8c8"/>
<rect x="93.2" y="80.7" width="1.15" height="1.15" fill="#c8c8c8"/>
<rect x="121.2" y="112.9" width="1.15" height="1.15" fill="#c8c8c8"/>
<rect x="113.3" y="102.1" width="1.15" height="1.15" fill="#c8c8c8"/>
<rect x="97.5" y="108.6" width="1.15" height="1.15" fill="#c8c8c8"/>
<rect x="82.5" y="103.5" width="1.15" height="1.15" fill="#c8c8c8"/>
<rect x="83.6" y="119.5" width="1.15" height="1.15" fill="#c8c8c8"/>
<rect x="65.6" y="92.0" width="1.15" height="1.15" fill="#c8c8c8"/>
<rect x="51.4" y="111.5" width="1.15" height="1.15" fill="#c8c8c8"/>
<line x1="37.5" y1="220" x2="167" y2="207.05" stroke="#0808ee" stroke-width="2.1"/>
<text x="246.2" y="13.6" font-size="17.5" font-weight="bold" text-anchor="start" fill="#000" stroke="#000" stroke-width="0.3" transform="translate(246.2 0) scale(0.9 1) translate(-246.2 0)">B</text>
<line x1="419.5" y1="71.50" x2="628.5" y2="71.50" stroke="#ebebeb" stroke-width="1"/>
<line x1="419.5" y1="99.40" x2="628.5" y2="99.40" stroke="#ebebeb" stroke-width="1"/>
<line x1="419.5" y1="127.30" x2="628.5" y2="127.30" stroke="#ebebeb" stroke-width="1"/>
<line x1="419.5" y1="155.20" x2="628.5" y2="155.20" stroke="#ebebeb" stroke-width="1"/>
<line x1="419.5" y1="183.10" x2="628.5" y2="183.10" stroke="#ebebeb" stroke-width="1"/>
<line x1="419.5" y1="211.00" x2="628.5" y2="211.00" stroke="#ebebeb" stroke-width="1"/>
<line x1="419.5" y1="238.90" x2="628.5" y2="238.90" stroke="#ebebeb" stroke-width="1"/>
<line x1="419.5" y1="266.80" x2="628.5" y2="266.80" stroke="#ebebeb" stroke-width="1"/>
<line x1="419.5" y1="294.70" x2="628.5" y2="294.70" stroke="#ebebeb" stroke-width="1"/>
<line x1="476.8" y1="55.2" x2="476.8" y2="311.7" stroke="#ebebeb" stroke-width="1"/>
<line x1="571.7" y1="55.2" x2="571.7" y2="311.7" stroke="#ebebeb" stroke-width="1"/>
<rect x="419.5" y="55.2" width="209.0" height="256.5" fill="none" stroke="#979797" stroke-width="1.05"/>
<line x1="418.2" y1="71.50" x2="419.5" y2="71.50" stroke="#666" stroke-width="1"/>
<line x1="418.2" y1="99.40" x2="419.5" y2="99.40" stroke="#666" stroke-width="1"/>
<line x1="418.2" y1="127.30" x2="419.5" y2="127.30" stroke="#666" stroke-width="1"/>
<line x1="418.2" y1="155.20" x2="419.5" y2="155.20" stroke="#666" stroke-width="1"/>
<line x1="418.2" y1="183.10" x2="419.5" y2="183.10" stroke="#666" stroke-width="1"/>
<line x1="418.2" y1="211.00" x2="419.5" y2="211.00" stroke="#666" stroke-width="1"/>
<line x1="418.2" y1="238.90" x2="419.5" y2="238.90" stroke="#666" stroke-width="1"/>
<line x1="418.2" y1="266.80" x2="419.5" y2="266.80" stroke="#666" stroke-width="1"/>
<line x1="418.2" y1="294.70" x2="419.5" y2="294.70" stroke="#666" stroke-width="1"/>
<line x1="476.8" y1="311.7" x2="476.8" y2="313.0" stroke="#666" stroke-width="1"/>
<line x1="571.7" y1="311.7" x2="571.7" y2="313.0" stroke="#666" stroke-width="1"/>
<g transform="translate(409.6 0) scale(1.09 1)">
<text x="0" y="77.4" font-size="9.5" font-weight="bold" text-anchor="end" fill="#111" stroke="#111" stroke-width="0.2752293577981651" >Extracellular matrix organization</text>
<text x="0" y="105.11" font-size="9.5" font-weight="bold" text-anchor="end" fill="#111" stroke="#111" stroke-width="0.2752293577981651" >Signaling by Receptor Tyrosine Kinases</text>
<text x="0" y="132.82" font-size="9.5" font-weight="bold" text-anchor="end" fill="#111" stroke="#111" stroke-width="0.2752293577981651" >Laminin interactions</text>
<text x="0" y="160.53" font-size="9.5" font-weight="bold" text-anchor="end" fill="#111" stroke="#111" stroke-width="0.2752293577981651" >MET activates PTK2 signaling</text>
<text x="0" y="188.24" font-size="9.5" font-weight="bold" text-anchor="end" fill="#111" stroke="#111" stroke-width="0.2752293577981651" >MET promotes cell motility</text>
<text x="0" y="215.95" font-size="9.5" font-weight="bold" text-anchor="end" fill="#111" stroke="#111" stroke-width="0.2752293577981651" >Non-integrin membrane-ECM interactions</text>
<text x="0" y="243.66" font-size="9.5" font-weight="bold" text-anchor="end" fill="#111" stroke="#111" stroke-width="0.2752293577981651" >ECM proteoglycans</text>
<text x="0" y="271.37" font-size="9.5" font-weight="bold" text-anchor="end" fill="#111" stroke="#111" stroke-width="0.2752293577981651" >Integrin cell surface interactions</text>
<text x="0" y="299.08" font-size="9.5" font-weight="bold" text-anchor="end" fill="#111" stroke="#111" stroke-width="0.2752293577981651" >Binding and Uptake of Ligands by Scavenger Receptors</text>
</g>
<circle cx="476.8" cy="71.50" r="3.1" fill="#e8302a"/>
<circle cx="571.7" cy="71.50" r="4.6" fill="#e8302a"/>
<circle cx="476.8" cy="99.40" r="3.5" fill="#e8302a"/>
<circle cx="476.8" cy="127.30" r="1.3" fill="#e8302a"/>
<circle cx="571.7" cy="127.30" r="2.7" fill="#1010e8"/>
<circle cx="476.8" cy="155.20" r="1.2" fill="#e8302a"/>
<circle cx="476.8" cy="183.10" r="1.6" fill="#e8302a"/>
<circle cx="476.8" cy="211.00" r="1.8" fill="#e8302a"/>
<circle cx="571.7" cy="211.00" r="3.3" fill="#e8302a"/>
<circle cx="476.8" cy="238.90" r="1.8" fill="#b8259e"/>
<circle cx="571.7" cy="238.90" r="3.3" fill="#d6303f"/>
<circle cx="571.7" cy="266.80" r="3.8" fill="#e8302a"/>
<circle cx="571.7" cy="294.70" r="2.9" fill="#bf2e98"/>
<text x="523.5" y="42.3" font-size="13.4" font-weight="bold" text-anchor="middle" fill="#111" stroke="#111" stroke-width="0.3" >LN18</text>
<text x="476.8" y="325.4" font-size="8.9" font-weight="bold" text-anchor="middle" fill="#111" stroke="#111" stroke-width="0.3" >BLM</text>
<text x="476.8" y="336.2" font-size="8.9" font-weight="bold" text-anchor="middle" fill="#111" stroke="#111" stroke-width="0.3" >(2757)</text>
<text x="571.7" y="325.4" font-size="8.9" font-weight="bold" text-anchor="middle" fill="#111" stroke="#111" stroke-width="0.3" >RECQL4</text>
<text x="571.7" y="336.2" font-size="8.9" font-weight="bold" text-anchor="middle" fill="#111" stroke="#111" stroke-width="0.3" >(132)</text>
<text x="640" y="119.4" font-size="8.8" font-weight="bold" text-anchor="start" fill="#111" stroke="#111" stroke-width="0.3" >GeneRatio</text>
<circle cx="644.9" cy="132.6" r="2.4" fill="#000"/>
<text x="659.6" y="135.7" font-size="8.8" font-weight="bold" text-anchor="start" fill="#111" stroke="#111" stroke-width="0.3" >0.03</text>
<circle cx="644.9" cy="143.2" r="3.3" fill="#000"/>
<text x="659.6" y="146.29999999999998" font-size="8.8" font-weight="bold" text-anchor="start" fill="#111" stroke="#111" stroke-width="0.3" >0.06</text>
<circle cx="644.9" cy="153.7" r="4.0" fill="#000"/>
<text x="659.6" y="156.79999999999998" font-size="8.8" font-weight="bold" text-anchor="start" fill="#111" stroke="#111" stroke-width="0.3" >0.09</text>
<circle cx="644.9" cy="165.2" r="4.4" fill="#000"/>
<text x="659.6" y="168.29999999999998" font-size="8.8" font-weight="bold" text-anchor="start" fill="#111" stroke="#111" stroke-width="0.3" >0.12</text>
<text x="640" y="186.8" font-size="8.8" font-weight="bold" text-anchor="start" fill="#111" stroke="#111" stroke-width="0.3" >p.adjust</text>
<defs><linearGradient id="g194" x1="0" y1="0" x2="0" y2="1"><stop offset="0" stop-color="#e8322c"/><stop offset="0.5" stop-color="#b52a8a"/><stop offset="1" stop-color="#2a10f2"/></linearGradient></defs>
<rect x="639.0" y="194.6" width="11.399999999999977" height="54.900000000000006" fill="url(#g194)"/>
<line x1="639.0" y1="213.1" x2="641.0" y2="213.1" stroke="#fff" stroke-width="0.8" opacity="0.7"/>
<line x1="648.4" y1="213.1" x2="650.4" y2="213.1" stroke="#fff" stroke-width="0.8" opacity="0.7"/>
<text x="659.6" y="216.2" font-size="8.8" font-weight="bold" text-anchor="start" fill="#111" stroke="#111" stroke-width="0.3" >0.01</text>
<line x1="639.0" y1="231.3" x2="641.0" y2="231.3" stroke="#fff" stroke-width="0.8" opacity="0.7"/>
<line x1="648.4" y1="231.3" x2="650.4" y2="231.3" stroke="#fff" stroke-width="0.8" opacity="0.7"/>
<text x="659.6" y="232.79999999999998" font-size="8.8" font-weight="bold" text-anchor="start" fill="#111" stroke="#111" stroke-width="0.3" >0.02</text>
<text x="659.6" y="248.7" font-size="8.8" font-weight="bold" text-anchor="start" fill="#111" stroke="#111" stroke-width="0.3" >0.03</text>
<text x="99.3" y="376" font-size="17.5" font-weight="bold" text-anchor="start" fill="#000" stroke="#000" stroke-width="0.3" transform="translate(99.3 0) scale(0.84 1) translate(-99.3 0)">C</text>
<line x1="312.4" y1="410.30" x2="554.5" y2="410.30" stroke="#ebebeb" stroke-width="1"/>
<line x1="312.4" y1="435.50" x2="554.5" y2="435.50" stroke="#ebebeb" stroke-width="1"/>
<line x1="312.4" y1="460.70" x2="554.5" y2="460.70" stroke="#ebebeb" stroke-width="1"/>
<line x1="312.4" y1="485.90" x2="554.5" y2="485.90" stroke="#ebebeb" stroke-width="1"/>
<line x1="312.4" y1="511.10" x2="554.5" y2="511.10" stroke="#ebebeb" stroke-width="1"/>
<line x1="312.4" y1="536.30" x2="554.5" y2="536.30" stroke="#ebebeb" stroke-width="1"/>
<line x1="312.4" y1="561.50" x2="554.5" y2="561.50" stroke="#ebebeb" stroke-width="1"/>
<line x1="312.4" y1="586.70" x2="554.5" y2="586.70" stroke="#ebebeb" stroke-width="1"/>
<line x1="312.4" y1="611.90" x2="554.5" y2="611.90" stroke="#ebebeb" stroke-width="1"/>
<line x1="312.4" y1="637.10" x2="554.5" y2="637.10" stroke="#ebebeb" stroke-width="1"/>
<line x1="378.6" y1="395.4" x2="378.6" y2="652.4" stroke="#ebebeb" stroke-width="1"/>
<line x1="488.8" y1="395.4" x2="488.8" y2="652.4" stroke="#ebebeb" stroke-width="1"/>
<rect x="312.4" y="395.4" width="242.10000000000002" height="257.0" fill="none" stroke="#979797" stroke-width="1.05"/>
<line x1="311.09999999999997" y1="410.30" x2="312.4" y2="410.30" stroke="#666" stroke-width="1"/>
<line x1="311.09999999999997" y1="435.50" x2="312.4" y2="435.50" stroke="#666" stroke-width="1"/>
<line x1="311.09999999999997" y1="460.70" x2="312.4" y2="460.70" stroke="#666" stroke-width="1"/>
<line x1="311.09999999999997" y1="485.90" x2="312.4" y2="485.90" stroke="#666" stroke-width="1"/>
<line x1="311.09999999999997" y1="511.10" x2="312.4" y2="511.10" stroke="#666" stroke-width="1"/>
<line x1="311.09999999999997" y1="536.30" x2="312.4" y2="536.30" stroke="#666" stroke-width="1"/>
<line x1="311.09999999999997" y1="561.50" x2="312.4" y2="561.50" stroke="#666" stroke-width="1"/>
<line x1="311.09999999999997" y1="586.70" x2="312.4" y2="586.70" stroke="#666" stroke-width="1"/>
<line x1="311.09999999999997" y1="611.90" x2="312.4" y2="611.90" stroke="#666" stroke-width="1"/>
<line x1="311.09999999999997" y1="637.10" x2="312.4" y2="637.10" stroke="#666" stroke-width="1"/>
<line x1="378.6" y1="652.4" x2="378.6" y2="653.6999999999999" stroke="#666" stroke-width="1"/>
<line x1="488.8" y1="652.4" x2="488.8" y2="653.6999999999999" stroke="#666" stroke-width="1"/>
<g transform="translate(302.1 0) scale(1.09 1)">
<text x="0" y="413.3" font-size="9.5" font-weight="bold" text-anchor="end" fill="#111" stroke="#111" stroke-width="0.2752293577981651" >Extracellular matrix organization</text>
<text x="0" y="438.72" font-size="9.5" font-weight="bold" text-anchor="end" fill="#111" stroke="#111" stroke-width="0.2752293577981651" >Collagen formation</text>
<text x="0" y="464.14" font-size="9.5" font-weight="bold" text-anchor="end" fill="#111" stroke="#111" stroke-width="0.2752293577981651" >Signaling by Receptor Tyrosine Kinases</text>
<text x="0" y="489.56" font-size="9.5" font-weight="bold" text-anchor="end" fill="#111" stroke="#111" stroke-width="0.2752293577981651" >Collagen biosynthesis and modifying enzymes</text>
<text x="0" y="514.98" font-size="9.5" font-weight="bold" text-anchor="end" fill="#111" stroke="#111" stroke-width="0.2752293577981651" >Degradation of the extracellular matrix</text>
<text x="0" y="540.4" font-size="9.5" font-weight="bold" text-anchor="end" fill="#111" stroke="#111" stroke-width="0.2752293577981651" >S Phase</text>
<text x="0" y="565.82" font-size="9.5" font-weight="bold" text-anchor="end" fill="#111" stroke="#111" stroke-width="0.2752293577981651" >G1/S Transition</text>
<text x="0" y="591.24" font-size="9.5" font-weight="bold" text-anchor="end" fill="#111" stroke="#111" stroke-width="0.2752293577981651" >Mitotic G1-G1/S phases</text>
<text x="0" y="616.66" font-size="9.5" font-weight="bold" text-anchor="end" fill="#111" stroke="#111" stroke-width="0.2752293577981651" >DNA Replication</text>
<text x="0" y="642.08" font-size="9.5" font-weight="bold" text-anchor="end" fill="#111" stroke="#111" stroke-width="0.2752293577981651" >Synthesis of DNA</text>
</g>
<circle cx="378.6" cy="410.30" r="3.6" fill="#e8302a"/>
<circle cx="488.8" cy="410.30" r="3.75" fill="#0a0af0"/>
<circle cx="378.6" cy="435.50" r="2.2" fill="#e8302a"/>
<circle cx="378.6" cy="460.70" r="4.5" fill="#e8302a"/>
<circle cx="488.8" cy="460.70" r="4.75" fill="#7a18d0"/>
<circle cx="378.6" cy="485.90" r="1.2" fill="#e8302a"/>
<circle cx="378.6" cy="511.10" r="2.4" fill="#e8302a"/>
<circle cx="488.8" cy="536.30" r="3.8" fill="#e8302a"/>
<circle cx="488.8" cy="561.50" r="3.5" fill="#e8302a"/>
<circle cx="488.8" cy="586.70" r="3.5" fill="#e8302a"/>
<circle cx="488.8" cy="611.90" r="3.3" fill="#e8302a"/>
<circle cx="488.8" cy="637.10" r="3.1" fill="#e8302a"/>
<text x="432.7" y="382.6" font-size="13.4" font-weight="bold" text-anchor="middle" fill="#111" stroke="#111" stroke-width="0.3" >LN229</text>
<text x="378.6" y="667.3" font-size="8.9" font-weight="bold" text-anchor="middle" fill="#111" stroke="#111" stroke-width="0.3" >BLM</text>
<text x="378.6" y="678.0999999999999" font-size="8.9" font-weight="bold" text-anchor="middle" fill="#111" stroke="#111" stroke-width="0.3" >(4188)</text>
<text x="488.8" y="667.3" font-size="8.9" font-weight="bold" text-anchor="middle" fill="#111" stroke="#111" stroke-width="0.3" >RECQL4</text>
<text x="488.8" y="678.0999999999999" font-size="8.9" font-weight="bold" text-anchor="middle" fill="#111" stroke="#111" stroke-width="0.3" >(887)</text>
<text x="566.8" y="453.9" font-size="8.8" font-weight="bold" text-anchor="start" fill="#111" stroke="#111" stroke-width="0.3" >GeneRatio</text>
<circle cx="570.9" cy="467.4" r="2.5" fill="#000"/>
<text x="586.1" y="470.5" font-size="8.8" font-weight="bold" text-anchor="start" fill="#111" stroke="#111" stroke-width="0.3" >0.02</text>
<circle cx="570.9" cy="478.2" r="3.1" fill="#000"/>
<text x="586.1" y="481.3" font-size="8.8" font-weight="bold" text-anchor="start" fill="#111" stroke="#111" stroke-width="0.3" >0.03</text>
<circle cx="570.9" cy="489.3" r="3.75" fill="#000"/>
<text x="586.1" y="492.40000000000003" font-size="8.8" font-weight="bold" text-anchor="start" fill="#111" stroke="#111" stroke-width="0.3" >0.04</text>
<circle cx="570.9" cy="500.1" r="4.1" fill="#000"/>
<text x="586.1" y="503.20000000000005" font-size="8.8" font-weight="bold" text-anchor="start" fill="#111" stroke="#111" stroke-width="0.3" >0.05</text>
<circle cx="570.9" cy="511" r="4.35" fill="#000"/>
<text x="586.1" y="514.1" font-size="8.8" font-weight="bold" text-anchor="start" fill="#111" stroke="#111" stroke-width="0.3" >0.06</text>
<text x="566.8" y="533.6" font-size="8.8" font-weight="bold" text-anchor="start" fill="#111" stroke="#111" stroke-width="0.3" >p.adjust</text>
<defs><linearGradient id="g541" x1="0" y1="0" x2="0" y2="1"><stop offset="0" stop-color="#e8322c"/><stop offset="0.5" stop-color="#b52a8a"/><stop offset="1" stop-color="#2a10f2"/></linearGradient></defs>
<rect x="565.3" y="541.1" width="11.400000000000091" height="54.39999999999998" fill="url(#g541)"/>
<line x1="565.3" y1="559.5" x2="567.3" y2="559.5" stroke="#fff" stroke-width="0.8" opacity="0.7"/>
<line x1="574.7" y1="559.5" x2="576.7" y2="559.5" stroke="#fff" stroke-width="0.8" opacity="0.7"/>
<text x="586.1" y="565.1" font-size="8.8" font-weight="bold" text-anchor="start" fill="#111" stroke="#111" stroke-width="0.3" >0.05</text>
<line x1="565.3" y1="578" x2="567.3" y2="578" stroke="#fff" stroke-width="0.8" opacity="0.7"/>
<line x1="574.7" y1="578" x2="576.7" y2="578" stroke="#fff" stroke-width="0.8" opacity="0.7"/>
<text x="586.1" y="581.1" font-size="8.8" font-weight="bold" text-anchor="start" fill="#111" stroke="#111" stroke-width="0.3" >0.10</text>
</svg>
</body></html>
